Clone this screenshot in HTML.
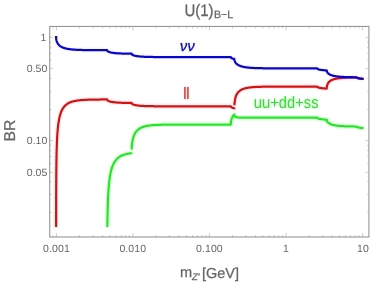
<!DOCTYPE html>
<html><head><meta charset="utf-8"><title>U(1) B-L</title>
<style>
html,body{margin:0;padding:0;background:#fff;}
svg{display:block;will-change:transform;text-rendering:geometricPrecision;font-family:"Liberation Sans",sans-serif;}
</style></head><body>
<svg width="374" height="286" viewBox="0 0 374 286">
<rect width="374" height="286" fill="#fff"/>
<g fill="none" stroke-linejoin="round" stroke-linecap="butt" stroke-width="2.25">
<path d="M56.15,227.00 L56.15,225.26 L56.15,222.06 L56.15,218.87 L56.16,215.68 L56.16,212.50 L56.17,209.32 L56.17,206.15 L56.18,202.99 L56.18,199.83 L56.19,196.68 L56.20,193.54 L56.21,190.41 L56.22,187.29 L56.24,184.19 L56.25,181.09 L56.27,178.01 L56.29,174.94 L56.32,171.89 L56.34,169.58 L56.35,168.86 L56.38,165.84 L56.42,162.85 L56.46,159.88 L56.51,156.94 L56.54,155.31 L56.57,154.02 L56.64,151.14 L56.72,148.28 L56.75,147.23 L56.81,145.47 L56.91,142.69 L56.95,141.66 L57.03,139.96 L57.16,137.45 L57.17,137.28 L57.36,134.10 L57.57,131.33 L57.77,128.98 L57.98,126.96 L58.18,125.19 L58.39,123.62 L58.59,122.22 L58.80,120.95 L59.00,119.80 L59.21,118.75 L59.41,117.79 L59.62,116.91 L59.83,116.09 L60.03,115.33 L60.24,114.62 L60.44,113.96 L60.65,113.34 L60.85,112.76 L61.06,112.21 L61.26,111.69 L61.47,111.21 L61.67,110.75 L61.88,110.32 L62.08,109.91 L62.29,109.51 L62.49,109.14 L62.70,108.79 L62.90,108.46 L63.11,108.14 L63.31,107.83 L63.52,107.54 L63.72,107.26 L63.93,106.99 L64.13,106.74 L64.34,106.49 L64.54,106.26 L64.75,106.04 L64.95,105.82 L65.16,105.61 L65.36,105.41 L65.57,105.22 L65.77,105.04 L65.98,104.86 L66.18,104.69 L66.39,104.53 L66.59,104.37 L66.80,104.22 L67.00,104.07 L67.21,103.93 L67.41,103.80 L67.62,103.67 L67.82,103.54 L68.03,103.42 L68.23,103.30 L68.44,103.19 L68.65,103.07 L68.85,102.97 L69.06,102.87 L69.26,102.77 L69.47,102.67 L69.67,102.58 L69.88,102.49 L70.08,102.40 L70.29,102.31 L70.49,102.23 L70.70,102.15 L70.90,102.08 L71.11,102.00 L71.31,101.93 L71.52,101.86 L71.72,101.79 L71.93,101.73 L72.13,101.66 L72.34,101.60 L72.54,101.54 L72.75,101.48 L72.95,101.43 L73.16,101.37 L73.36,101.32 L73.57,101.27 L73.77,101.22 L73.98,101.17 L74.18,101.12 L74.39,101.08 L74.59,101.03 L74.80,100.99 L75.00,100.95 L75.21,100.91 L75.41,100.87 L75.62,100.83 L75.82,100.79 L76.03,100.76 L76.23,100.72 L76.44,100.69 L76.64,100.65 L76.85,100.62 L77.05,100.59 L77.26,100.56 L77.47,100.53 L77.67,100.50 L77.88,100.47 L78.08,100.44 L78.29,100.42 L78.49,100.39 L78.70,100.37 L78.90,100.34 L79.11,100.32 L79.31,100.30 L79.52,100.27 L79.72,100.25 L79.93,100.23 L80.13,100.21 L80.34,100.19 L80.54,100.17 L80.75,100.15 L80.95,100.13 L81.16,100.11 L81.36,100.10 L81.57,100.08 L81.77,100.06 L81.98,100.05 L82.18,100.03 L82.39,100.02 L82.59,100.00 L82.80,99.99 L83.00,99.97 L83.21,99.96 L83.41,99.95 L83.62,99.93 L83.82,99.92 L84.03,99.91 L84.23,99.89 L84.44,99.88 L84.64,99.87 L84.85,99.86 L85.05,99.85 L85.26,99.84 L85.46,99.83 L85.67,99.82 L85.87,99.81 L86.08,99.80 L86.29,99.79 L86.49,99.78 L86.70,99.77 L86.90,99.76 L87.11,99.76 L87.31,99.75 L87.52,99.74 L87.72,99.73 L87.93,99.72 L88.13,99.72 L88.34,99.71 L88.54,99.70 L88.75,99.70 L88.95,99.69 L89.16,99.68 L89.36,99.68 L89.57,99.67 L89.77,99.66 L89.98,99.66 L90.18,99.65 L90.39,99.65 L90.59,99.64 L90.80,99.64 L91.00,99.63 L91.21,99.63 L91.41,99.62 L91.62,99.62 L91.82,99.61 L92.03,99.61 L92.23,99.60 L92.44,99.60 L92.64,99.60 L92.85,99.59 L93.05,99.59 L93.26,99.58 L93.46,99.58 L93.67,99.58 L93.87,99.57 L94.08,99.57 L94.28,99.57 L94.49,99.56 L94.69,99.56 L94.90,99.56 L95.11,99.55 L95.31,99.55 L95.52,99.55 L95.72,99.54 L95.93,99.54 L96.13,99.54 L96.34,99.54 L96.54,99.53 L96.75,99.53 L96.95,99.53 L97.16,99.53 L97.36,99.52 L97.57,99.52 L97.77,99.52 L97.98,99.52 L98.18,99.51 L98.39,99.51 L98.59,99.51 L98.80,99.51 L99.00,99.51 L99.21,99.51 L99.41,99.50 L99.62,99.50 L99.82,99.50 L100.03,99.50 L100.23,99.50 L100.44,99.50 L100.64,99.49 L100.85,99.49 L101.05,99.49 L101.26,99.49 L101.46,99.49 L101.67,99.49 L101.87,99.49 L102.08,99.48 L102.28,99.48 L102.49,99.48 L102.69,99.48 L102.90,99.48 L103.10,99.48 L103.31,99.48 L103.51,99.48 L103.72,99.47 L103.93,99.47 L104.13,99.47 L104.34,99.47 L104.54,99.47 L104.75,99.47 L104.95,99.47 L105.16,99.47 L105.36,99.47 L105.57,99.47 L105.77,99.47 L105.98,99.46 L106.18,99.46 L106.39,99.46 L106.59,99.46 L106.80,99.46 L107.00,99.46 L107.13,99.46 L107.14,99.58 L107.16,99.69 L107.19,99.79 L107.24,99.90 L107.29,100.00 L107.35,100.08 L107.41,100.17 L107.51,100.29 L107.62,100.39 L107.72,100.48 L107.81,100.55 L107.91,100.62 L108.03,100.70 L108.17,100.79 L108.44,100.93 L108.64,101.03 L108.85,101.12 L109.05,101.20 L109.26,101.28 L109.46,101.35 L109.67,101.42 L109.87,101.48 L110.08,101.54 L110.28,101.59 L110.49,101.65 L110.69,101.70 L110.90,101.74 L111.10,101.79 L111.31,101.83 L111.51,101.87 L111.72,101.91 L111.92,101.95 L112.13,101.98 L112.33,102.02 L112.54,102.05 L112.75,102.08 L112.95,102.11 L113.16,102.14 L113.36,102.17 L113.57,102.19 L113.77,102.22 L113.98,102.24 L114.18,102.27 L114.39,102.29 L114.59,102.31 L114.80,102.33 L115.00,102.35 L115.21,102.37 L115.41,102.39 L115.62,102.41 L115.82,102.43 L116.03,102.45 L116.23,102.46 L116.44,102.48 L116.64,102.50 L116.85,102.51 L117.05,102.53 L117.26,102.54 L117.46,102.55 L117.67,102.57 L117.87,102.58 L118.08,102.59 L118.28,102.60 L118.49,102.62 L118.69,102.63 L118.90,102.64 L119.10,102.65 L119.31,102.66 L119.51,102.67 L119.72,102.68 L119.92,102.69 L120.13,102.70 L120.33,102.71 L120.54,102.71 L120.74,102.72 L120.95,102.73 L121.15,102.74 L121.36,102.75 L121.57,102.75 L121.77,102.76 L121.98,102.77 L122.18,102.77 L122.39,102.78 L122.59,102.79 L122.80,102.79 L123.00,102.80 L123.21,102.81 L123.41,102.81 L123.62,102.82 L123.82,102.82 L124.03,102.83 L124.23,102.83 L124.44,102.84 L124.64,102.84 L124.85,102.85 L125.05,102.85 L125.26,102.86 L125.46,102.86 L125.67,102.86 L125.87,102.87 L126.08,102.87 L126.28,102.88 L126.49,102.88 L126.69,102.88 L126.90,102.89 L127.10,102.89 L127.31,102.89 L127.51,102.90 L127.72,102.90 L127.92,102.90 L128.13,102.91 L128.33,102.91 L128.54,102.91 L128.74,102.92 L128.95,102.92 L129.15,102.92 L129.36,102.92 L129.56,102.93 L129.77,102.93 L129.97,102.93 L130.18,102.93 L130.39,102.94 L130.59,102.94 L130.80,102.94 L131.00,102.94 L131.21,102.94 L131.41,102.95 L131.59,102.95 L131.60,103.07 L131.63,103.18 L131.66,103.27 L131.71,103.38 L131.78,103.49 L131.84,103.57 L131.92,103.66 L132.03,103.77 L132.10,103.83 L132.18,103.89 L132.27,103.96 L132.37,104.03 L132.49,104.11 L132.63,104.19 L132.85,104.30 L133.05,104.40 L133.26,104.48 L133.46,104.56 L133.67,104.64 L133.87,104.71 L134.08,104.77 L134.28,104.83 L134.49,104.89 L134.69,104.94 L134.90,104.99 L135.10,105.04 L135.31,105.09 L135.51,105.13 L135.72,105.17 L135.92,105.21 L136.13,105.25 L136.33,105.28 L136.54,105.32 L136.74,105.35 L136.95,105.38 L137.15,105.41 L137.36,105.44 L137.56,105.47 L137.77,105.50 L137.97,105.53 L138.18,105.55 L138.38,105.57 L138.59,105.60 L138.79,105.62 L139.00,105.64 L139.21,105.66 L139.41,105.68 L139.62,105.70 L139.82,105.72 L140.03,105.74 L140.23,105.76 L140.44,105.77 L140.64,105.79 L140.85,105.81 L141.05,105.82 L141.26,105.84 L141.46,105.85 L141.67,105.87 L141.87,105.88 L142.08,105.89 L142.28,105.90 L142.49,105.92 L142.69,105.93 L142.90,105.94 L143.10,105.95 L143.31,105.96 L143.51,105.97 L143.72,105.98 L143.92,105.99 L144.13,106.00 L144.33,106.01 L144.54,106.02 L144.74,106.03 L144.95,106.04 L145.15,106.05 L145.36,106.05 L145.56,106.06 L145.77,106.07 L145.97,106.08 L146.18,106.08 L146.38,106.09 L146.59,106.10 L146.79,106.10 L147.00,106.11 L147.20,106.12 L147.41,106.12 L147.61,106.13 L147.82,106.13 L148.03,106.14 L148.23,106.14 L148.44,106.15 L148.64,106.16 L148.85,106.16 L149.05,106.16 L149.26,106.17 L149.46,106.17 L149.67,106.18 L149.87,106.18 L150.08,106.19 L150.28,106.19 L150.49,106.19 L150.69,106.20 L150.90,106.20 L151.10,106.21 L151.31,106.21 L151.51,106.21 L151.72,106.22 L151.92,106.22 L152.13,106.22 L152.33,106.23 L152.54,106.23 L152.74,106.23 L152.95,106.23 L153.15,106.24 L153.36,106.24 L153.56,106.24 L153.77,106.25 L153.97,106.25 L154.18,106.25 L154.38,106.25 L154.59,106.25 L154.79,106.26 L155.00,106.26 L155.20,106.26 L155.41,106.26 L155.61,106.27 L155.82,106.27 L156.02,106.27 L156.23,106.27 L156.44,106.27 L156.64,106.27 L156.85,106.28 L157.05,106.28 L157.26,106.28 L157.46,106.28 L157.67,106.28 L157.87,106.28 L158.08,106.29 L158.28,106.29 L158.49,106.29 L158.69,106.29 L158.90,106.29 L159.10,106.29 L159.31,106.29 L159.51,106.29 L159.72,106.30 L159.92,106.30 L160.13,106.30 L160.33,106.30 L160.54,106.30 L160.74,106.30 L160.95,106.30 L161.15,106.30 L161.36,106.30 L161.56,106.31 L161.77,106.31 L161.97,106.31 L162.18,106.31 L162.38,106.31 L162.59,106.31 L162.79,106.31 L163.00,106.31 L163.20,106.31 L163.41,106.31 L163.61,106.31 L163.82,106.31 L164.02,106.31 L164.23,106.32 L164.43,106.32 L164.64,106.32 L164.84,106.32 L165.05,106.32 L165.26,106.32 L165.46,106.32 L165.67,106.32 L165.87,106.32 L166.08,106.32 L166.28,106.32 L166.49,106.32 L166.69,106.32 L166.90,106.32 L167.10,106.32 L167.31,106.32 L167.51,106.32 L167.72,106.32 L167.92,106.32 L168.13,106.33 L168.33,106.33 L168.54,106.33 L168.74,106.33 L168.95,106.33 L169.15,106.33 L169.36,106.33 L169.56,106.33 L169.77,106.33 L169.97,106.33 L170.18,106.33 L170.38,106.33 L170.59,106.33 L170.79,106.33 L171.00,106.33 L171.20,106.33 L171.41,106.33 L171.61,106.33 L171.82,106.33 L172.02,106.33 L172.23,106.33 L172.43,106.33 L172.64,106.33 L172.84,106.33 L173.05,106.33 L173.25,106.33 L173.46,106.33 L173.66,106.33 L173.87,106.33 L174.08,106.33 L174.28,106.33 L174.49,106.33 L174.69,106.33 L174.90,106.33 L175.10,106.33 L175.31,106.33 L175.51,106.33 L175.72,106.34 L175.92,106.34 L176.13,106.34 L176.33,106.34 L176.54,106.34 L176.74,106.34 L176.95,106.34 L177.15,106.34 L177.36,106.34 L177.56,106.34 L177.77,106.34 L177.97,106.34 L178.18,106.34 L178.38,106.34 L178.59,106.34 L178.79,106.34 L179.00,106.34 L179.20,106.34 L179.41,106.34 L179.61,106.34 L179.82,106.34 L180.02,106.34 L180.23,106.34 L180.43,106.34 L180.64,106.34 L180.84,106.34 L181.05,106.34 L181.25,106.34 L181.46,106.34 L181.66,106.34 L181.87,106.34 L182.07,106.34 L182.28,106.34 L182.48,106.34 L182.69,106.34 L182.90,106.34 L183.10,106.34 L183.31,106.34 L183.51,106.34 L183.72,106.34 L183.92,106.34 L184.13,106.34 L184.33,106.34 L184.54,106.34 L184.74,106.34 L184.95,106.34 L185.15,106.34 L185.36,106.34 L185.56,106.34 L185.77,106.34 L185.97,106.34 L186.18,106.34 L186.38,106.34 L186.59,106.34 L186.79,106.34 L187.00,106.34 L187.20,106.34 L187.41,106.34 L187.61,106.34 L187.82,106.34 L188.02,106.34 L188.23,106.34 L188.43,106.34 L188.64,106.34 L188.84,106.34 L189.05,106.34 L189.25,106.34 L189.46,106.34 L189.66,106.34 L189.87,106.34 L190.07,106.34 L190.28,106.34 L190.48,106.34 L190.69,106.34 L190.89,106.34 L191.10,106.34 L191.30,106.34 L191.51,106.34 L191.72,106.34 L191.92,106.34 L192.13,106.34 L192.33,106.34 L192.54,106.34 L192.74,106.34 L192.95,106.34 L193.15,106.34 L193.36,106.34 L193.56,106.34 L193.77,106.34 L193.97,106.34 L194.18,106.34 L194.38,106.34 L194.59,106.34 L194.79,106.34 L195.00,106.34 L195.20,106.34 L195.41,106.34 L195.61,106.34 L195.82,106.34 L196.02,106.34 L196.23,106.34 L196.43,106.34 L196.64,106.34 L196.84,106.34 L197.05,106.34 L197.25,106.34 L197.46,106.34 L197.66,106.34 L197.87,106.34 L198.07,106.34 L198.28,106.34 L198.48,106.34 L198.69,106.34 L198.89,106.34 L199.10,106.34 L199.30,106.34 L199.51,106.34 L199.71,106.34 L199.92,106.34 L200.12,106.34 L200.33,106.34 L200.54,106.34 L200.74,106.34 L200.95,106.34 L201.15,106.34 L201.36,106.34 L201.56,106.34 L201.77,106.34 L201.97,106.34 L202.18,106.34 L202.38,106.34 L202.59,106.34 L202.79,106.34 L203.00,106.34 L203.20,106.34 L203.41,106.34 L203.61,106.34 L203.82,106.34 L204.02,106.34 L204.23,106.34 L204.43,106.34 L204.64,106.34 L204.84,106.34 L205.05,106.34 L205.25,106.34 L205.46,106.34 L205.66,106.34 L205.87,106.34 L206.07,106.34 L206.28,106.34 L206.48,106.34 L206.69,106.34 L206.89,106.34 L207.10,106.34 L207.30,106.34 L207.51,106.34 L207.71,106.34 L207.92,106.34 L208.12,106.34 L208.33,106.34 L208.53,106.34 L208.74,106.34 L208.94,106.34 L209.15,106.34 L209.36,106.34 L209.56,106.34 L209.77,106.34 L209.97,106.34 L210.18,106.34 L210.38,106.34 L210.59,106.34 L210.79,106.34 L211.00,106.34 L211.20,106.34 L211.41,106.34 L211.61,106.34 L211.82,106.34 L212.02,106.34 L212.23,106.34 L212.43,106.34 L212.64,106.34 L212.84,106.34 L213.05,106.34 L213.25,106.34 L213.46,106.34 L213.66,106.34 L213.87,106.34 L214.07,106.34 L214.28,106.34 L214.48,106.34 L214.69,106.34 L214.89,106.34 L215.10,106.34 L215.30,106.34 L215.51,106.34 L215.71,106.34 L215.92,106.34 L216.12,106.34 L216.33,106.34 L216.53,106.34 L216.74,106.34 L216.94,106.34 L217.15,106.34 L217.35,106.34 L217.56,106.34 L217.76,106.34 L217.97,106.34 L218.18,106.34 L218.38,106.34 L218.59,106.34 L218.79,106.34 L219.00,106.34 L219.20,106.34 L219.41,106.34 L219.61,106.34 L219.82,106.34 L220.02,106.34 L220.23,106.34 L220.43,106.34 L220.64,106.34 L220.84,106.34 L221.05,106.34 L221.25,106.34 L221.46,106.34 L221.66,106.34 L221.87,106.34 L222.07,106.34 L222.28,106.34 L222.48,106.34 L222.69,106.34 L222.89,106.34 L223.10,106.34 L223.30,106.34 L223.51,106.34 L223.71,106.34 L223.92,106.34 L224.12,106.34 L224.33,106.34 L224.53,106.34 L224.74,106.34 L224.94,106.34 L225.15,106.34 L225.35,106.34 L225.56,106.34 L225.76,106.34 L225.97,106.34 L226.17,106.34 L226.38,106.34 L226.58,106.34 L226.79,106.34 L227.00,106.34 L227.20,106.34 L227.41,106.34 L227.61,106.34 L227.82,106.34 L228.02,106.34 L228.23,106.34 L228.43,106.34 L228.64,106.34 L228.84,106.34 L229.05,106.34 L229.25,106.34 L229.46,106.34 L229.66,106.34 L229.87,106.34 L230.07,106.34 L230.28,106.34 L230.48,106.34 L230.69,106.34 L230.84,106.34 L230.85,106.46 L230.88,106.57 L230.92,106.67 L230.98,106.77 L231.05,106.88 L231.12,106.96 L231.22,107.05 L231.30,107.12 L231.42,107.21 L231.51,107.27 L231.62,107.34 L231.71,107.40 L231.87,107.48 L232.12,107.60 L232.33,107.69 L232.53,107.77 L232.74,107.84 L232.94,107.90 L233.15,107.97 L233.35,108.02 L233.56,108.08 L233.76,108.13 L233.97,108.18 L234.17,108.22 L234.37,108.27 L234.37,107.66 M234.43,105.30 L234.44,105.09 L234.45,104.86 L234.46,104.63 L234.48,104.37 L234.49,104.10 L234.51,103.82 L234.53,103.52 L234.56,103.20 L234.58,102.88 L234.62,102.50 L234.66,102.13 L234.70,101.73 L234.75,101.31 L234.79,101.03 L234.81,100.87 L234.88,100.42 L234.96,99.94 L234.99,99.73 L235.05,99.44 L235.15,98.92 L235.20,98.70 L235.27,98.38 L235.40,97.85 L235.61,97.12 L235.82,96.48 L236.02,95.92 L236.23,95.42 L236.43,94.96 L236.64,94.54 L236.84,94.16 L237.05,93.80 L237.25,93.48 L237.46,93.17 L237.66,92.89 L237.87,92.62 L238.07,92.37 L238.28,92.14 L238.48,91.92 L238.69,91.71 L238.89,91.51 L239.10,91.33 L239.30,91.15 L239.51,90.98 L239.71,90.82 L239.92,90.67 L240.12,90.52 L240.33,90.38 L240.53,90.25 L240.74,90.13 L240.94,90.00 L241.15,89.89 L241.35,89.78 L241.56,89.67 L241.76,89.57 L241.97,89.47 L242.17,89.38 L242.38,89.29 L242.58,89.20 L242.79,89.12 L242.99,89.03 L243.20,88.96 L243.40,88.88 L243.61,88.81 L243.81,88.74 L244.02,88.67 L244.22,88.61 L244.43,88.55 L244.64,88.49 L244.84,88.43 L245.05,88.37 L245.25,88.32 L245.46,88.27 L245.66,88.22 L245.87,88.17 L246.07,88.12 L246.28,88.07 L246.48,88.03 L246.69,87.99 L246.89,87.95 L247.10,87.91 L247.30,87.87 L247.51,87.83 L247.71,87.79 L247.92,87.76 L248.12,87.72 L248.33,87.69 L248.53,87.66 L248.74,87.63 L248.94,87.60 L249.15,87.57 L249.35,87.54 L249.56,87.51 L249.76,87.48 L249.97,87.46 L250.17,87.43 L250.38,87.41 L250.58,87.39 L250.79,87.36 L250.99,87.34 L251.20,87.32 L251.40,87.30 L251.61,87.28 L251.81,87.26 L252.02,87.24 L252.22,87.22 L252.43,87.20 L252.63,87.18 L252.84,87.17 L253.04,87.15 L253.25,87.13 L253.46,87.12 L253.66,87.10 L253.87,87.09 L254.07,87.07 L254.28,87.06 L254.48,87.04 L254.69,87.03 L254.89,87.02 L255.10,87.01 L255.30,86.99 L255.51,86.98 L255.71,86.97 L255.92,86.96 L256.12,86.95 L256.33,86.94 L256.53,86.93 L256.74,86.92 L256.94,86.91 L257.15,86.90 L257.35,86.89 L257.56,86.88 L257.76,86.87 L257.97,86.86 L258.17,86.85 L258.38,86.85 L258.58,86.84 L258.79,86.83 L258.99,86.82 L259.20,86.81 L259.40,86.81 L259.61,86.80 L259.81,86.79 L260.02,86.79 L260.22,86.78 L260.43,86.78 L260.63,86.77 L260.84,86.76 L261.04,86.76 L261.25,86.75 L261.45,86.75 L261.66,86.74 L261.86,86.74 L262.07,86.73 L262.28,86.73 L262.48,86.72 L262.69,86.72 L262.89,86.71 L263.10,86.71 L263.30,86.70 L263.51,86.70 L263.71,86.70 L263.92,86.69 L264.12,86.69 L264.33,86.68 L264.53,86.68 L264.74,86.68 L264.94,86.67 L265.15,86.67 L265.35,86.67 L265.56,86.66 L265.76,86.66 L265.97,86.66 L266.17,86.65 L266.38,86.65 L266.58,86.65 L266.79,86.65 L266.99,86.64 L267.20,86.64 L267.40,86.64 L267.61,86.64 L267.81,86.63 L268.02,86.63 L268.22,86.63 L268.43,86.63 L268.63,86.62 L268.84,86.62 L269.04,86.62 L269.25,86.62 L269.45,86.62 L269.66,86.61 L269.86,86.61 L270.07,86.61 L270.27,86.61 L270.48,86.61 L270.68,86.60 L270.89,86.60 L271.10,86.60 L271.30,86.60 L271.51,86.60 L271.71,86.60 L271.92,86.60 L272.12,86.59 L272.33,86.59 L272.53,86.59 L272.74,86.59 L272.94,86.59 L273.15,86.59 L273.35,86.59 L273.56,86.59 L273.76,86.58 L273.97,86.58 L274.17,86.58 L274.38,86.58 L274.58,86.58 L274.79,86.58 L274.99,86.58 L275.20,86.58 L275.40,86.58 L275.61,86.57 L275.81,86.57 L276.02,86.57 L276.22,86.57 L276.43,86.57 L276.63,86.57 L276.84,86.57 L277.04,86.57 L277.25,86.57 L277.45,86.57 L277.66,86.57 L277.86,86.57 L278.07,86.57 L278.27,86.56 L278.48,86.56 L278.68,86.56 L278.89,86.56 L279.09,86.56 L279.30,86.56 L279.50,86.56 L279.71,86.56 L279.92,86.56 L280.12,86.56 L280.33,86.56 L280.53,86.56 L280.74,86.56 L280.94,86.56 L281.15,86.56 L281.35,86.56 L281.56,86.56 L281.76,86.56 L281.97,86.56 L282.17,86.56 L282.38,86.55 L282.58,86.55 L282.79,86.55 L282.99,86.55 L283.20,86.55 L283.40,86.55 L283.61,86.55 L283.81,86.55 L284.02,86.55 L284.22,86.55 L284.43,86.55 L284.63,86.55 L284.84,86.55 L285.04,86.55 L285.25,86.55 L285.45,86.55 L285.66,86.55 L285.86,86.55 L286.07,86.55 L286.27,86.55 L286.48,86.55 L286.68,86.55 L286.89,86.55 L287.09,86.55 L287.30,86.55 L287.50,86.55 L287.71,86.55 L287.91,86.55 L288.12,86.55 L288.32,86.55 L288.53,86.55 L288.74,86.55 L288.94,86.55 L289.15,86.55 L289.35,86.55 L289.56,86.55 L289.76,86.55 L289.97,86.55 L290.17,86.55 L290.38,86.54 L290.58,86.54 L290.79,86.54 L290.99,86.54 L291.20,86.54 L291.40,86.54 L291.61,86.54 L291.81,86.54 L292.02,86.54 L292.22,86.54 L292.43,86.54 L292.63,86.54 L292.84,86.54 L293.04,86.54 L293.25,86.54 L293.45,86.54 L293.66,86.54 L293.86,86.54 L294.07,86.54 L294.27,86.54 L294.48,86.54 L294.68,86.54 L294.89,86.54 L295.09,86.54 L295.30,86.54 L295.50,86.54 L295.71,86.54 L295.91,86.54 L296.12,86.54 L296.32,86.54 L296.53,86.54 L296.73,86.54 L296.94,86.54 L297.15,86.54 L297.35,86.54 L297.56,86.54 L297.76,86.54 L297.97,86.54 L298.17,86.54 L298.38,86.54 L298.58,86.54 L298.79,86.54 L298.99,86.54 L299.20,86.54 L299.40,86.54 L299.61,86.54 L299.81,86.54 L300.02,86.54 L300.22,86.54 L300.43,86.54 L300.63,86.54 L300.84,86.54 L301.04,86.54 L301.25,86.54 L301.45,86.54 L301.66,86.54 L301.86,86.54 L302.07,86.54 L302.27,86.54 L302.48,86.54 L302.68,86.54 L302.89,86.54 L303.09,86.54 L303.30,86.54 L303.50,86.54 L303.71,86.54 L303.91,86.54 L304.12,86.54 L304.32,86.54 L304.53,86.54 L304.73,86.54 L304.94,86.54 L305.14,86.54 L305.35,86.54 L305.55,86.54 L305.76,86.54 L305.97,86.54 L306.17,86.54 L306.38,86.54 L306.58,86.54 L306.79,86.54 L306.99,86.54 L307.20,86.54 L307.40,86.54 L307.61,86.54 L307.81,86.54 L308.02,86.54 L308.22,86.54 L308.43,86.54 L308.63,86.54 L308.84,86.54 L309.04,86.54 L309.25,86.54 L309.45,86.54 L309.66,86.54 L309.86,86.54 L310.07,86.54 L310.27,86.54 L310.48,86.54 L310.68,86.54 L310.89,86.54 L311.09,86.54 L311.30,86.54 L311.50,86.54 L311.71,86.54 L311.91,86.54 L312.12,86.54 L312.32,86.54 L312.53,86.54 L312.73,86.54 L312.94,86.54 L313.14,86.54 L313.35,86.54 L313.55,86.54 L313.76,86.54 L313.96,86.54 L314.17,86.54 L314.37,86.54 L314.58,86.54 L314.79,86.54 L314.99,86.54 L315.20,86.54 L315.40,86.54 L315.61,86.54 L315.81,86.54 L316.02,86.54 L316.22,86.54 L316.43,86.54 L316.63,86.54 L316.84,86.54 L317.04,86.54 L317.17,86.54 L317.19,86.65 L317.22,86.74 L317.27,86.83 L317.33,86.90 L317.42,86.99 L317.50,87.05 L317.61,87.13 L317.75,87.22 L317.84,87.27 L317.95,87.32 L318.07,87.37 L318.21,87.43 L318.48,87.53 L318.68,87.60 L318.89,87.66 L319.09,87.71 L319.30,87.76 L319.50,87.81 L319.71,87.86 L319.91,87.90 L320.12,87.94 L320.32,87.98 L320.53,88.01 L320.73,88.05 L320.94,88.08 L321.14,88.11 L321.35,88.14 L321.55,88.17 L321.76,88.19 L321.96,88.22 L322.17,88.24 L322.37,88.27 L322.58,88.29 L322.78,88.31 L322.99,88.33 L323.19,88.35 L323.40,88.37 L323.61,88.39 L323.81,88.41 L324.02,88.42 L324.22,88.44 L324.43,88.46 L324.63,88.47 L324.84,88.49 L325.04,88.50 L325.25,88.51 L325.45,88.53 L325.66,88.54 L325.86,88.55 L326.07,88.56 L326.27,88.58 L326.48,88.59 L326.68,88.60 L326.73,88.53 L326.74,88.40 L326.74,88.26 L326.74,88.12 L326.75,87.96 L326.76,87.80 L326.76,87.68 L326.77,87.54 L326.78,87.38 L326.80,87.20 L326.82,86.99 L326.84,86.88 L326.85,86.75 L326.87,86.62 L326.89,86.48 L326.92,86.33 L326.95,86.18 L326.98,86.01 L327.02,85.83 L327.06,85.64 L327.09,85.52 L327.17,85.23 L327.24,85.01 L327.30,84.83 L327.41,84.52 L327.50,84.29 L327.63,83.99 L327.71,83.84 L327.77,83.71 L327.91,83.45 L328.12,83.11 L328.32,82.80 L328.53,82.53 L328.73,82.28 L328.94,82.05 L329.14,81.83 L329.35,81.64 L329.55,81.45 L329.76,81.28 L329.96,81.12 L330.17,80.97 L330.37,80.83 L330.58,80.70 L330.78,80.57 L330.99,80.45 L331.19,80.34 L331.40,80.23 L331.60,80.13 L331.81,80.03 L332.01,79.94 L332.22,79.85 L332.43,79.76 L332.63,79.68 L332.84,79.60 L333.04,79.53 L333.25,79.46 L333.45,79.39 L333.66,79.32 L333.86,79.26 L334.07,79.20 L334.27,79.14 L334.48,79.08 L334.68,79.03 L334.89,78.98 L335.09,78.93 L335.30,78.88 L335.50,78.83 L335.71,78.79 L335.91,78.75 L336.12,78.70 L336.32,78.66 L336.53,78.63 L336.73,78.59 L336.94,78.55 L337.14,78.52 L337.35,78.48 L337.55,78.45 L337.76,78.42 L337.96,78.39 L338.17,78.36 L338.37,78.33 L338.58,78.30 L338.78,78.27 L338.99,78.25 L339.19,78.22 L339.40,78.20 L339.60,78.18 L339.81,78.15 L340.01,78.13 L340.22,78.11 L340.42,78.09 L340.63,78.07 L340.83,78.05 L341.04,78.03 L341.25,78.01 L341.45,77.99 L341.66,77.98 L341.86,77.96 L342.07,77.94 L342.27,77.93 L342.48,77.91 L342.68,77.90 L342.89,77.88 L343.09,77.87 L343.30,77.85 L343.50,77.84 L343.71,77.83 L343.91,77.82 L344.12,77.80 L344.32,77.79 L344.53,77.78 L344.73,77.77 L344.94,77.76 L345.14,77.75 L345.35,77.74 L345.55,77.73 L345.76,77.72 L345.96,77.71 L346.17,77.70 L346.37,77.69 L346.58,77.68 L346.78,77.67 L346.99,77.66 L347.19,77.66 L347.40,77.65 L347.60,77.64 L347.81,77.63 L348.01,77.63 L348.22,77.62 L348.42,77.61 L348.63,77.61 L348.83,77.60 L349.04,77.59 L349.24,77.59 L349.45,77.58 L349.65,77.58 L349.86,77.57 L350.07,77.57 L350.27,77.56 L350.48,77.55 L350.68,77.55 L350.89,77.54 L351.09,77.54 L351.30,77.54 L351.50,77.53 L351.71,77.53 L351.91,77.52 L352.12,77.52 L352.32,77.51 L352.53,77.51 L352.73,77.51 L352.94,77.50 L353.14,77.50 L353.35,77.50 L353.55,77.49 L353.76,77.49 L353.96,77.49 L354.17,77.48 L354.37,77.48 L354.58,77.48 L354.78,77.47 L354.99,77.47 L355.19,77.47 L355.40,77.46 L355.60,77.46 L355.81,77.46 L356.01,77.46 L356.22,77.45 L356.42,77.45 L356.63,77.45 L356.66,77.54 L356.70,77.63 L356.76,77.71 L356.83,77.77 L356.93,77.84 L357.02,77.90 L357.15,77.97 L357.24,78.01 L357.42,78.08 L357.54,78.12 L357.65,78.16 L357.86,78.22 L358.06,78.28 L358.27,78.33 L358.47,78.38 L358.68,78.42 L358.89,78.46 L359.09,78.49 L359.30,78.53 L359.50,78.56 L359.71,78.59 L359.91,78.62 L360.12,78.65 L360.32,78.67 L360.53,78.70 L360.73,78.72 L360.94,78.74 L361.14,78.76 L361.35,78.78 L361.55,78.80 L361.76,78.82 L361.96,78.84 L362.17,78.85 L362.37,78.87 L362.58,78.89 L362.78,78.90 L362.99,78.92 L363.19,78.93 L363.40,78.94 L363.60,78.96" stroke="#ff0000"/>
<path d="M107.37,227.00 L107.38,226.02 L107.41,223.31 L107.42,222.88 L107.46,219.77 L107.51,216.67 L107.57,213.59 L107.62,211.47 L107.64,210.53 L107.72,207.49 L107.81,204.48 L107.82,204.02 L107.91,201.50 L108.03,198.64 L108.17,195.64 L108.23,194.44 L108.44,191.03 L108.64,188.16 L108.85,185.71 L109.05,183.56 L109.26,181.67 L109.46,179.98 L109.67,178.46 L109.87,177.07 L110.08,175.81 L110.28,174.66 L110.49,173.59 L110.69,172.61 L110.90,171.69 L111.10,170.84 L111.31,170.04 L111.51,169.29 L111.72,168.59 L111.92,167.93 L112.13,167.31 L112.33,166.72 L112.54,166.17 L112.75,165.64 L112.95,165.14 L113.16,164.67 L113.36,164.22 L113.57,163.79 L113.77,163.38 L113.98,162.99 L114.18,162.62 L114.39,162.26 L114.59,161.92 L114.80,161.60 L115.00,161.28 L115.21,160.99 L115.41,160.70 L115.62,160.42 L115.82,160.16 L116.03,159.91 L116.23,159.66 L116.44,159.43 L116.64,159.20 L116.85,158.99 L117.05,158.78 L117.26,158.58 L117.46,158.38 L117.67,158.20 L117.87,158.02 L118.08,157.84 L118.28,157.68 L118.49,157.51 L118.69,157.36 L118.90,157.21 L119.10,157.06 L119.31,156.92 L119.51,156.78 L119.72,156.65 L119.92,156.53 L120.13,156.40 L120.33,156.28 L120.54,156.17 L120.74,156.06 L120.95,155.95 L121.15,155.84 L121.36,155.74 L121.57,155.64 L121.77,155.55 L121.98,155.46 L122.18,155.37 L122.39,155.28 L122.59,155.20 L122.80,155.12 L123.00,155.04 L123.21,154.96 L123.41,154.89 L123.62,154.81 L123.82,154.74 L124.03,154.68 L124.23,154.61 L124.44,154.55 L124.64,154.48 L124.85,154.42 L125.05,154.37 L125.26,154.31 L125.46,154.25 L125.67,154.20 L125.87,154.15 L126.08,154.10 L126.28,154.05 L126.49,154.00 L126.69,153.95 L126.90,153.91 L127.10,153.87 L127.31,153.82 L127.51,153.78 L127.72,153.74 L127.92,153.70 L128.13,153.66 L128.33,153.63 L128.54,153.59 L128.74,153.56 L128.95,153.52 L129.15,153.49 L129.36,153.46 L129.56,153.43 L129.77,153.40 L129.97,153.37 L130.18,153.34 L130.39,153.31 L130.59,153.28 L130.80,153.26 L131.00,153.23 L131.21,153.20 L131.41,153.18 L131.59,153.16 L131.59,152.65 M131.65,149.60 L131.66,149.34 L131.67,149.06 L131.68,148.77 L131.70,148.47 L131.71,148.14 L131.73,147.79 L131.75,147.42 L131.78,147.02 L131.81,146.60 L131.82,146.39 L131.84,146.16 L131.88,145.69 L131.92,145.20 L131.97,144.67 L132.03,144.16 L132.10,143.55 L132.18,142.94 L132.23,142.54 L132.27,142.30 L132.37,141.64 L132.44,141.25 L132.49,140.95 L132.63,140.23 L132.85,139.23 L133.05,138.40 L133.26,137.66 L133.46,137.00 L133.67,136.39 L133.87,135.83 L134.08,135.32 L134.28,134.85 L134.49,134.40 L134.69,133.99 L134.90,133.60 L135.10,133.24 L135.31,132.90 L135.51,132.57 L135.72,132.27 L135.92,131.98 L136.13,131.70 L136.33,131.44 L136.54,131.20 L136.74,130.96 L136.95,130.74 L137.15,130.52 L137.36,130.32 L137.56,130.12 L137.77,129.93 L137.97,129.75 L138.18,129.58 L138.38,129.42 L138.59,129.26 L138.79,129.10 L139.00,128.96 L139.21,128.82 L139.41,128.68 L139.62,128.55 L139.82,128.43 L140.03,128.31 L140.23,128.19 L140.44,128.08 L140.64,127.97 L140.85,127.87 L141.05,127.77 L141.26,127.67 L141.46,127.58 L141.67,127.49 L141.87,127.40 L142.08,127.31 L142.28,127.23 L142.49,127.15 L142.69,127.08 L142.90,127.00 L143.10,126.93 L143.31,126.86 L143.51,126.80 L143.72,126.73 L143.92,126.67 L144.13,126.61 L144.33,126.55 L144.54,126.49 L144.74,126.44 L144.95,126.38 L145.15,126.33 L145.36,126.28 L145.56,126.23 L145.77,126.18 L145.97,126.14 L146.18,126.09 L146.38,126.05 L146.59,126.01 L146.79,125.97 L147.00,125.93 L147.20,125.89 L147.41,125.85 L147.61,125.82 L147.82,125.78 L148.03,125.75 L148.23,125.71 L148.44,125.68 L148.64,125.65 L148.85,125.62 L149.05,125.59 L149.26,125.56 L149.46,125.53 L149.67,125.51 L149.87,125.48 L150.08,125.45 L150.28,125.43 L150.49,125.41 L150.69,125.38 L150.90,125.36 L151.10,125.34 L151.31,125.32 L151.51,125.29 L151.72,125.27 L151.92,125.25 L152.13,125.23 L152.33,125.22 L152.54,125.20 L152.74,125.18 L152.95,125.16 L153.15,125.15 L153.36,125.13 L153.56,125.11 L153.77,125.10 L153.97,125.08 L154.18,125.07 L154.38,125.05 L154.59,125.04 L154.79,125.03 L155.00,125.01 L155.20,125.00 L155.41,124.99 L155.61,124.98 L155.82,124.96 L156.02,124.95 L156.23,124.94 L156.44,124.93 L156.64,124.92 L156.85,124.91 L157.05,124.90 L157.26,124.89 L157.46,124.88 L157.67,124.87 L157.87,124.86 L158.08,124.85 L158.28,124.84 L158.49,124.84 L158.69,124.83 L158.90,124.82 L159.10,124.81 L159.31,124.80 L159.51,124.80 L159.72,124.79 L159.92,124.78 L160.13,124.78 L160.33,124.77 L160.54,124.76 L160.74,124.76 L160.95,124.75 L161.15,124.74 L161.36,124.74 L161.56,124.73 L161.77,124.73 L161.97,124.72 L162.18,124.72 L162.38,124.71 L162.59,124.71 L162.79,124.70 L163.00,124.70 L163.20,124.69 L163.41,124.69 L163.61,124.68 L163.82,124.68 L164.02,124.68 L164.23,124.67 L164.43,124.67 L164.64,124.66 L164.84,124.66 L165.05,124.66 L165.26,124.65 L165.46,124.65 L165.67,124.65 L165.87,124.64 L166.08,124.64 L166.28,124.64 L166.49,124.63 L166.69,124.63 L166.90,124.63 L167.10,124.62 L167.31,124.62 L167.51,124.62 L167.72,124.62 L167.92,124.61 L168.13,124.61 L168.33,124.61 L168.54,124.61 L168.74,124.60 L168.95,124.60 L169.15,124.60 L169.36,124.60 L169.56,124.60 L169.77,124.59 L169.97,124.59 L170.18,124.59 L170.38,124.59 L170.59,124.59 L170.79,124.58 L171.00,124.58 L171.20,124.58 L171.41,124.58 L171.61,124.58 L171.82,124.58 L172.02,124.57 L172.23,124.57 L172.43,124.57 L172.64,124.57 L172.84,124.57 L173.05,124.57 L173.25,124.57 L173.46,124.56 L173.66,124.56 L173.87,124.56 L174.08,124.56 L174.28,124.56 L174.49,124.56 L174.69,124.56 L174.90,124.56 L175.10,124.56 L175.31,124.55 L175.51,124.55 L175.72,124.55 L175.92,124.55 L176.13,124.55 L176.33,124.55 L176.54,124.55 L176.74,124.55 L176.95,124.55 L177.15,124.55 L177.36,124.55 L177.56,124.54 L177.77,124.54 L177.97,124.54 L178.18,124.54 L178.38,124.54 L178.59,124.54 L178.79,124.54 L179.00,124.54 L179.20,124.54 L179.41,124.54 L179.61,124.54 L179.82,124.54 L180.02,124.54 L180.23,124.54 L180.43,124.54 L180.64,124.54 L180.84,124.53 L181.05,124.53 L181.25,124.53 L181.46,124.53 L181.66,124.53 L181.87,124.53 L182.07,124.53 L182.28,124.53 L182.48,124.53 L182.69,124.53 L182.90,124.53 L183.10,124.53 L183.31,124.53 L183.51,124.53 L183.72,124.53 L183.92,124.53 L184.13,124.53 L184.33,124.53 L184.54,124.53 L184.74,124.53 L184.95,124.53 L185.15,124.53 L185.36,124.53 L185.56,124.53 L185.77,124.53 L185.97,124.53 L186.18,124.52 L186.38,124.52 L186.59,124.52 L186.79,124.52 L187.00,124.52 L187.20,124.52 L187.41,124.52 L187.61,124.52 L187.82,124.52 L188.02,124.52 L188.23,124.52 L188.43,124.52 L188.64,124.52 L188.84,124.52 L189.05,124.52 L189.25,124.52 L189.46,124.52 L189.66,124.52 L189.87,124.52 L190.07,124.52 L190.28,124.52 L190.48,124.52 L190.69,124.52 L190.89,124.52 L191.10,124.52 L191.30,124.52 L191.51,124.52 L191.72,124.52 L191.92,124.52 L192.13,124.52 L192.33,124.52 L192.54,124.52 L192.74,124.52 L192.95,124.52 L193.15,124.52 L193.36,124.52 L193.56,124.52 L193.77,124.52 L193.97,124.52 L194.18,124.52 L194.38,124.52 L194.59,124.52 L194.79,124.52 L195.00,124.52 L195.20,124.52 L195.41,124.52 L195.61,124.52 L195.82,124.52 L196.02,124.52 L196.23,124.52 L196.43,124.52 L196.64,124.52 L196.84,124.52 L197.05,124.52 L197.25,124.52 L197.46,124.52 L197.66,124.52 L197.87,124.52 L198.07,124.52 L198.28,124.52 L198.48,124.52 L198.69,124.52 L198.89,124.52 L199.10,124.52 L199.30,124.52 L199.51,124.52 L199.71,124.52 L199.92,124.52 L200.12,124.52 L200.33,124.52 L200.54,124.52 L200.74,124.52 L200.95,124.52 L201.15,124.52 L201.36,124.52 L201.56,124.52 L201.77,124.52 L201.97,124.52 L202.18,124.52 L202.38,124.52 L202.59,124.52 L202.79,124.52 L203.00,124.52 L203.20,124.52 L203.41,124.52 L203.61,124.52 L203.82,124.52 L204.02,124.52 L204.23,124.52 L204.43,124.52 L204.64,124.52 L204.84,124.52 L205.05,124.52 L205.25,124.52 L205.46,124.52 L205.66,124.52 L205.87,124.52 L206.07,124.52 L206.28,124.52 L206.48,124.52 L206.69,124.52 L206.89,124.52 L207.10,124.51 L207.30,124.51 L207.51,124.51 L207.71,124.51 L207.92,124.51 L208.12,124.51 L208.33,124.51 L208.53,124.51 L208.74,124.51 L208.94,124.51 L209.15,124.51 L209.36,124.51 L209.56,124.51 L209.77,124.51 L209.97,124.51 L210.18,124.51 L210.38,124.51 L210.59,124.51 L210.79,124.51 L211.00,124.51 L211.20,124.51 L211.41,124.51 L211.61,124.51 L211.82,124.51 L212.02,124.51 L212.23,124.51 L212.43,124.51 L212.64,124.51 L212.84,124.51 L213.05,124.51 L213.25,124.51 L213.46,124.51 L213.66,124.51 L213.87,124.51 L214.07,124.51 L214.28,124.51 L214.48,124.51 L214.69,124.51 L214.89,124.51 L215.10,124.51 L215.30,124.51 L215.51,124.51 L215.71,124.51 L215.92,124.51 L216.12,124.51 L216.33,124.51 L216.53,124.51 L216.74,124.51 L216.94,124.51 L217.15,124.51 L217.35,124.51 L217.56,124.51 L217.76,124.51 L217.97,124.51 L218.18,124.51 L218.38,124.51 L218.59,124.51 L218.79,124.51 L219.00,124.51 L219.20,124.51 L219.41,124.51 L219.61,124.51 L219.82,124.51 L220.02,124.51 L220.23,124.51 L220.43,124.51 L220.64,124.51 L220.84,124.51 L221.05,124.51 L221.25,124.51 L221.46,124.51 L221.66,124.51 L221.87,124.51 L222.07,124.51 L222.28,124.51 L222.48,124.51 L222.69,124.51 L222.89,124.51 L223.10,124.51 L223.30,124.51 L223.51,124.51 L223.71,124.51 L223.92,124.51 L224.12,124.51 L224.33,124.51 L224.53,124.51 L224.74,124.51 L224.94,124.51 L225.15,124.51 L225.35,124.51 L225.56,124.51 L225.76,124.51 L225.97,124.51 L226.17,124.51 L226.38,124.51 L226.58,124.51 L226.79,124.51 L227.00,124.51 L227.20,124.51 L227.41,124.51 L227.61,124.51 L227.82,124.51 L228.02,124.51 L228.23,124.51 L228.43,124.51 L228.64,124.51 L228.84,124.51 L229.05,124.51 L229.25,124.51 L229.46,124.51 L229.66,124.51 L229.87,124.51 L230.07,124.51 L230.28,124.51 L230.48,124.51 L230.69,124.51 L230.84,124.51 L230.84,124.39 L230.84,124.26 L230.84,124.12 L230.84,123.99 L230.85,123.86 L230.85,123.70 L230.86,123.58 L230.86,123.43 L230.87,123.27 L230.88,123.08 L230.89,122.92 L230.91,122.74 L230.92,122.61 L230.93,122.48 L230.94,122.33 L230.96,122.17 L230.98,122.00 L231.00,121.82 L231.02,121.63 L231.05,121.43 L231.08,121.21 L231.12,120.98 L231.17,120.74 L231.22,120.48 L231.28,120.20 L231.30,120.09 L231.34,119.91 L231.42,119.61 L231.51,119.30 L231.62,118.94 L231.71,118.65 L231.87,118.22 L231.92,118.10 L232.12,117.62 L232.33,117.19 L232.53,116.81 L232.74,116.46 L232.94,116.13 L233.15,115.84 L233.35,115.56 L233.56,115.30 L233.76,115.06 L233.97,114.84 L234.17,114.62 L234.37,114.43 L234.38,114.55 L234.38,114.68 L234.39,114.81 L234.40,114.93 L234.41,115.04 L234.43,115.18 L234.45,115.28 L234.48,115.40 L234.51,115.53 L234.56,115.68 L234.62,115.83 L234.66,115.92 L234.70,116.00 L234.75,116.09 L234.81,116.19 L234.88,116.28 L234.96,116.38 L235.05,116.47 L235.15,116.57 L235.27,116.67 L235.40,116.76 L235.61,116.88 L235.82,116.98 L236.02,117.06 L236.23,117.13 L236.43,117.19 L236.64,117.24 L236.84,117.28 L237.05,117.32 L237.25,117.36 L237.46,117.39 L237.66,117.41 L237.87,117.44 L238.07,117.46 L238.28,117.48 L238.48,117.49 L238.69,117.51 L238.89,117.52 L239.10,117.53 L239.30,117.54 L239.51,117.55 L239.71,117.56 L239.92,117.57 L240.12,117.58 L240.33,117.58 L240.53,117.59 L240.74,117.60 L240.94,117.60 L241.15,117.60 L241.35,117.61 L241.56,117.61 L241.76,117.61 L241.97,117.62 L242.17,117.62 L242.38,117.62 L242.58,117.62 L242.79,117.63 L242.99,117.63 L243.20,117.63 L243.40,117.63 L243.61,117.63 L243.81,117.63 L244.02,117.63 L244.22,117.63 L244.43,117.63 L244.64,117.64 L244.84,117.64 L245.05,117.64 L245.25,117.64 L245.46,117.64 L245.66,117.64 L245.87,117.64 L246.07,117.64 L246.28,117.64 L246.48,117.64 L246.69,117.64 L246.89,117.64 L247.10,117.64 L247.30,117.64 L247.51,117.64 L247.71,117.64 L247.92,117.63 L248.12,117.63 L248.33,117.63 L248.53,117.63 L248.74,117.63 L248.94,117.63 L249.15,117.63 L249.35,117.63 L249.56,117.63 L249.76,117.63 L249.97,117.63 L250.17,117.63 L250.38,117.63 L250.58,117.63 L250.79,117.63 L250.99,117.63 L251.20,117.63 L251.40,117.63 L251.61,117.63 L251.81,117.63 L252.02,117.63 L252.22,117.63 L252.43,117.63 L252.63,117.63 L252.84,117.63 L253.04,117.63 L253.25,117.63 L253.46,117.62 L253.66,117.62 L253.87,117.62 L254.07,117.62 L254.28,117.62 L254.48,117.62 L254.69,117.62 L254.89,117.62 L255.10,117.62 L255.30,117.62 L255.51,117.62 L255.71,117.62 L255.92,117.62 L256.12,117.62 L256.33,117.62 L256.53,117.62 L256.74,117.62 L256.94,117.62 L257.15,117.62 L257.35,117.62 L257.56,117.62 L257.76,117.62 L257.97,117.62 L258.17,117.62 L258.38,117.62 L258.58,117.62 L258.79,117.62 L258.99,117.62 L259.20,117.62 L259.40,117.62 L259.61,117.62 L259.81,117.62 L260.02,117.62 L260.22,117.61 L260.43,117.61 L260.63,117.61 L260.84,117.61 L261.04,117.61 L261.25,117.61 L261.45,117.61 L261.66,117.61 L261.86,117.61 L262.07,117.61 L262.28,117.61 L262.48,117.61 L262.69,117.61 L262.89,117.61 L263.10,117.61 L263.30,117.61 L263.51,117.61 L263.71,117.61 L263.92,117.61 L264.12,117.61 L264.33,117.61 L264.53,117.61 L264.74,117.61 L264.94,117.61 L265.15,117.61 L265.35,117.61 L265.56,117.61 L265.76,117.61 L265.97,117.61 L266.17,117.61 L266.38,117.61 L266.58,117.61 L266.79,117.61 L266.99,117.61 L267.20,117.61 L267.40,117.61 L267.61,117.61 L267.81,117.61 L268.02,117.61 L268.22,117.61 L268.43,117.61 L268.63,117.61 L268.84,117.61 L269.04,117.61 L269.25,117.61 L269.45,117.61 L269.66,117.61 L269.86,117.61 L270.07,117.61 L270.27,117.61 L270.48,117.61 L270.68,117.61 L270.89,117.61 L271.10,117.61 L271.30,117.61 L271.51,117.61 L271.71,117.61 L271.92,117.61 L272.12,117.61 L272.33,117.61 L272.53,117.61 L272.74,117.61 L272.94,117.61 L273.15,117.61 L273.35,117.61 L273.56,117.61 L273.76,117.61 L273.97,117.61 L274.17,117.61 L274.38,117.61 L274.58,117.61 L274.79,117.61 L274.99,117.61 L275.20,117.61 L275.40,117.61 L275.61,117.61 L275.81,117.61 L276.02,117.61 L276.22,117.61 L276.43,117.61 L276.63,117.61 L276.84,117.61 L277.04,117.61 L277.25,117.61 L277.45,117.61 L277.66,117.61 L277.86,117.61 L278.07,117.61 L278.27,117.61 L278.48,117.61 L278.68,117.61 L278.89,117.61 L279.09,117.61 L279.30,117.61 L279.50,117.61 L279.71,117.61 L279.92,117.61 L280.12,117.61 L280.33,117.61 L280.53,117.61 L280.74,117.61 L280.94,117.61 L281.15,117.61 L281.35,117.61 L281.56,117.61 L281.76,117.61 L281.97,117.61 L282.17,117.61 L282.38,117.61 L282.58,117.61 L282.79,117.61 L282.99,117.61 L283.20,117.61 L283.40,117.61 L283.61,117.61 L283.81,117.61 L284.02,117.61 L284.22,117.61 L284.43,117.61 L284.63,117.61 L284.84,117.61 L285.04,117.61 L285.25,117.61 L285.45,117.61 L285.66,117.61 L285.86,117.61 L286.07,117.61 L286.27,117.61 L286.48,117.61 L286.68,117.61 L286.89,117.61 L287.09,117.61 L287.30,117.61 L287.50,117.61 L287.71,117.61 L287.91,117.61 L288.12,117.61 L288.32,117.61 L288.53,117.61 L288.74,117.61 L288.94,117.61 L289.15,117.61 L289.35,117.61 L289.56,117.61 L289.76,117.61 L289.97,117.61 L290.17,117.61 L290.38,117.61 L290.58,117.61 L290.79,117.61 L290.99,117.61 L291.20,117.61 L291.40,117.61 L291.61,117.61 L291.81,117.61 L292.02,117.61 L292.22,117.61 L292.43,117.61 L292.63,117.61 L292.84,117.61 L293.04,117.61 L293.25,117.61 L293.45,117.61 L293.66,117.61 L293.86,117.61 L294.07,117.61 L294.27,117.61 L294.48,117.61 L294.68,117.61 L294.89,117.61 L295.09,117.61 L295.30,117.61 L295.50,117.61 L295.71,117.61 L295.91,117.61 L296.12,117.61 L296.32,117.61 L296.53,117.61 L296.73,117.61 L296.94,117.61 L297.15,117.61 L297.35,117.61 L297.56,117.61 L297.76,117.61 L297.97,117.61 L298.17,117.61 L298.38,117.61 L298.58,117.61 L298.79,117.61 L298.99,117.61 L299.20,117.61 L299.40,117.61 L299.61,117.61 L299.81,117.61 L300.02,117.61 L300.22,117.61 L300.43,117.61 L300.63,117.61 L300.84,117.61 L301.04,117.61 L301.25,117.61 L301.45,117.61 L301.66,117.61 L301.86,117.61 L302.07,117.61 L302.27,117.61 L302.48,117.61 L302.68,117.61 L302.89,117.61 L303.09,117.61 L303.30,117.61 L303.50,117.61 L303.71,117.61 L303.91,117.61 L304.12,117.61 L304.32,117.61 L304.53,117.61 L304.73,117.61 L304.94,117.61 L305.14,117.61 L305.35,117.61 L305.55,117.61 L305.76,117.61 L305.97,117.61 L306.17,117.61 L306.38,117.61 L306.58,117.61 L306.79,117.61 L306.99,117.61 L307.20,117.61 L307.40,117.61 L307.61,117.61 L307.81,117.61 L308.02,117.61 L308.22,117.61 L308.43,117.61 L308.63,117.61 L308.84,117.61 L309.04,117.61 L309.25,117.61 L309.45,117.61 L309.66,117.61 L309.86,117.61 L310.07,117.61 L310.27,117.61 L310.48,117.61 L310.68,117.61 L310.89,117.61 L311.09,117.61 L311.30,117.61 L311.50,117.61 L311.71,117.61 L311.91,117.61 L312.12,117.61 L312.32,117.61 L312.53,117.61 L312.73,117.61 L312.94,117.61 L313.14,117.61 L313.35,117.61 L313.55,117.61 L313.76,117.61 L313.96,117.61 L314.17,117.61 L314.37,117.61 L314.58,117.61 L314.79,117.61 L314.99,117.61 L315.20,117.61 L315.40,117.61 L315.61,117.61 L315.81,117.61 L316.02,117.61 L316.22,117.61 L316.43,117.61 L316.63,117.61 L316.84,117.61 L317.04,117.61 L317.17,117.61 L317.19,117.72 L317.22,117.81 L317.27,117.90 L317.33,117.97 L317.42,118.05 L317.50,118.12 L317.61,118.20 L317.75,118.29 L317.84,118.33 L317.95,118.38 L318.07,118.44 L318.21,118.50 L318.48,118.60 L318.68,118.66 L318.89,118.72 L319.09,118.78 L319.30,118.83 L319.50,118.88 L319.71,118.92 L319.91,118.97 L320.12,119.01 L320.32,119.04 L320.53,119.08 L320.73,119.11 L320.94,119.15 L321.14,119.18 L321.35,119.21 L321.55,119.23 L321.76,119.26 L321.96,119.29 L322.17,119.31 L322.37,119.33 L322.58,119.36 L322.78,119.38 L322.99,119.40 L323.19,119.42 L323.40,119.44 L323.61,119.46 L323.81,119.47 L324.02,119.49 L324.22,119.51 L324.43,119.52 L324.63,119.54 L324.84,119.55 L325.04,119.57 L325.25,119.58 L325.45,119.59 L325.66,119.61 L325.86,119.62 L326.07,119.63 L326.27,119.64 L326.48,119.65 L326.68,119.66 L326.74,119.73 L326.74,119.85 L326.75,119.97 L326.76,120.10 L326.78,120.21 L326.80,120.34 L326.82,120.45 L326.85,120.57 L326.89,120.68 L326.92,120.78 L326.98,120.95 L327.02,121.04 L327.06,121.14 L327.11,121.25 L327.17,121.37 L327.24,121.49 L327.30,121.58 L327.41,121.75 L327.50,121.89 L327.63,122.06 L327.71,122.15 L327.77,122.22 L327.91,122.37 L328.12,122.58 L328.32,122.76 L328.53,122.93 L328.73,123.09 L328.94,123.23 L329.14,123.37 L329.35,123.49 L329.55,123.61 L329.76,123.72 L329.96,123.83 L330.17,123.93 L330.37,124.03 L330.58,124.12 L330.78,124.20 L330.99,124.28 L331.19,124.36 L331.40,124.44 L331.60,124.51 L331.81,124.58 L332.01,124.64 L332.22,124.71 L332.43,124.77 L332.63,124.82 L332.84,124.88 L333.04,124.93 L333.25,124.99 L333.45,125.04 L333.66,125.08 L333.86,125.13 L334.07,125.17 L334.27,125.22 L334.48,125.26 L334.68,125.30 L334.89,125.34 L335.09,125.37 L335.30,125.41 L335.50,125.44 L335.71,125.48 L335.91,125.51 L336.12,125.54 L336.32,125.57 L336.53,125.60 L336.73,125.63 L336.94,125.66 L337.14,125.68 L337.35,125.71 L337.55,125.74 L337.76,125.76 L337.96,125.78 L338.17,125.81 L338.37,125.83 L338.58,125.85 L338.78,125.87 L338.99,125.89 L339.19,125.91 L339.40,125.93 L339.60,125.95 L339.81,125.96 L340.01,125.98 L340.22,126.00 L340.42,126.02 L340.63,126.03 L340.83,126.05 L341.04,126.06 L341.25,126.08 L341.45,126.09 L341.66,126.10 L341.86,126.12 L342.07,126.13 L342.27,126.14 L342.48,126.15 L342.68,126.17 L342.89,126.18 L343.09,126.19 L343.30,126.20 L343.50,126.21 L343.71,126.22 L343.91,126.23 L344.12,126.24 L344.32,126.25 L344.53,126.26 L344.73,126.27 L344.94,126.28 L345.14,126.29 L345.35,126.29 L345.55,126.30 L345.76,126.31 L345.96,126.32 L346.17,126.32 L346.37,126.33 L346.58,126.34 L346.78,126.35 L346.99,126.35 L347.19,126.36 L347.40,126.36 L347.60,126.37 L347.81,126.38 L348.01,126.38 L348.22,126.39 L348.42,126.39 L348.63,126.40 L348.83,126.40 L349.04,126.41 L349.24,126.41 L349.45,126.42 L349.65,126.42 L349.86,126.43 L350.07,126.43 L350.27,126.44 L350.48,126.44 L350.68,126.44 L350.89,126.45 L351.09,126.45 L351.30,126.46 L351.50,126.46 L351.71,126.46 L351.91,126.47 L352.12,126.47 L352.32,126.47 L352.53,126.48 L352.73,126.48 L352.94,126.48 L353.14,126.49 L353.35,126.49 L353.55,126.49 L353.76,126.49 L353.96,126.50 L354.17,126.50 L354.37,126.50 L354.58,126.50 L354.78,126.51 L354.99,126.51 L355.19,126.51 L355.40,126.51 L355.60,126.52 L355.81,126.52 L356.01,126.52 L356.22,126.52 L356.42,126.52 L356.63,126.53 L356.66,126.62 L356.70,126.71 L356.76,126.78 L356.83,126.85 L356.93,126.92 L357.02,126.98 L357.15,127.05 L357.24,127.10 L357.42,127.17 L357.54,127.22 L357.65,127.26 L357.86,127.32 L358.06,127.38 L358.27,127.43 L358.47,127.48 L358.68,127.53 L358.89,127.57 L359.09,127.61 L359.30,127.65 L359.50,127.68 L359.71,127.72 L359.91,127.75 L360.12,127.78 L360.32,127.81 L360.53,127.83 L360.73,127.86 L360.94,127.88 L361.14,127.91 L361.35,127.93 L361.55,127.95 L361.76,127.97 L361.96,127.99 L362.17,128.01 L362.37,128.03 L362.58,128.05 L362.78,128.06 L362.99,128.08 L363.19,128.10 L363.40,128.11 L363.60,128.13" stroke="#00ff00"/>
<path d="M56.13,35.95 L56.13,37.30 L56.13,37.42 L56.14,37.55 L56.14,37.68 L56.14,37.81 L56.15,37.93 L56.15,38.09 L56.16,38.21 L56.17,38.35 L56.18,38.51 L56.20,38.69 L56.22,38.91 L56.24,39.02 L56.25,39.15 L56.27,39.28 L56.29,39.43 L56.32,39.58 L56.34,39.71 L56.38,39.92 L56.42,40.11 L56.46,40.31 L56.51,40.52 L56.54,40.64 L56.57,40.74 L56.64,40.98 L56.72,41.24 L56.75,41.33 L56.81,41.50 L56.91,41.78 L56.95,41.90 L57.03,42.08 L57.16,42.37 L57.36,42.79 L57.57,43.17 L57.77,43.51 L57.98,43.81 L58.18,44.10 L58.39,44.36 L58.59,44.60 L58.80,44.83 L59.00,45.04 L59.21,45.25 L59.41,45.43 L59.62,45.61 L59.83,45.78 L60.03,45.94 L60.24,46.09 L60.44,46.24 L60.65,46.38 L60.85,46.51 L61.06,46.63 L61.26,46.75 L61.47,46.87 L61.67,46.98 L61.88,47.08 L62.08,47.18 L62.29,47.28 L62.49,47.37 L62.70,47.46 L62.90,47.55 L63.11,47.63 L63.31,47.71 L63.52,47.79 L63.72,47.86 L63.93,47.93 L64.13,48.00 L64.34,48.07 L64.54,48.13 L64.75,48.19 L64.95,48.25 L65.16,48.31 L65.36,48.36 L65.57,48.42 L65.77,48.47 L65.98,48.52 L66.18,48.57 L66.39,48.62 L66.59,48.66 L66.80,48.70 L67.00,48.75 L67.21,48.79 L67.41,48.83 L67.62,48.87 L67.82,48.90 L68.03,48.94 L68.23,48.98 L68.44,49.01 L68.65,49.04 L68.85,49.07 L69.06,49.11 L69.26,49.14 L69.47,49.16 L69.67,49.19 L69.88,49.22 L70.08,49.25 L70.29,49.27 L70.49,49.30 L70.70,49.32 L70.90,49.35 L71.11,49.37 L71.31,49.39 L71.52,49.41 L71.72,49.43 L71.93,49.45 L72.13,49.47 L72.34,49.49 L72.54,49.51 L72.75,49.53 L72.95,49.55 L73.16,49.57 L73.36,49.58 L73.57,49.60 L73.77,49.61 L73.98,49.63 L74.18,49.64 L74.39,49.66 L74.59,49.67 L74.80,49.69 L75.00,49.70 L75.21,49.71 L75.41,49.73 L75.62,49.74 L75.82,49.75 L76.03,49.76 L76.23,49.77 L76.44,49.78 L76.64,49.79 L76.85,49.80 L77.05,49.81 L77.26,49.82 L77.47,49.83 L77.67,49.84 L77.88,49.85 L78.08,49.86 L78.29,49.87 L78.49,49.88 L78.70,49.89 L78.90,49.89 L79.11,49.90 L79.31,49.91 L79.52,49.92 L79.72,49.92 L79.93,49.93 L80.13,49.94 L80.34,49.94 L80.54,49.95 L80.75,49.96 L80.95,49.96 L81.16,49.97 L81.36,49.97 L81.57,49.98 L81.77,49.99 L81.98,49.99 L82.18,50.00 L82.39,50.00 L82.59,50.01 L82.80,50.01 L83.00,50.02 L83.21,50.02 L83.41,50.02 L83.62,50.03 L83.82,50.03 L84.03,50.04 L84.23,50.04 L84.44,50.04 L84.64,50.05 L84.85,50.05 L85.05,50.06 L85.26,50.06 L85.46,50.06 L85.67,50.07 L85.87,50.07 L86.08,50.07 L86.29,50.08 L86.49,50.08 L86.70,50.08 L86.90,50.08 L87.11,50.09 L87.31,50.09 L87.52,50.09 L87.72,50.09 L87.93,50.10 L88.13,50.10 L88.34,50.10 L88.54,50.10 L88.75,50.11 L88.95,50.11 L89.16,50.11 L89.36,50.11 L89.57,50.11 L89.77,50.12 L89.98,50.12 L90.18,50.12 L90.39,50.12 L90.59,50.12 L90.80,50.13 L91.00,50.13 L91.21,50.13 L91.41,50.13 L91.62,50.13 L91.82,50.13 L92.03,50.14 L92.23,50.14 L92.44,50.14 L92.64,50.14 L92.85,50.14 L93.05,50.14 L93.26,50.14 L93.46,50.14 L93.67,50.15 L93.87,50.15 L94.08,50.15 L94.28,50.15 L94.49,50.15 L94.69,50.15 L94.90,50.15 L95.11,50.15 L95.31,50.15 L95.52,50.16 L95.72,50.16 L95.93,50.16 L96.13,50.16 L96.34,50.16 L96.54,50.16 L96.75,50.16 L96.95,50.16 L97.16,50.16 L97.36,50.16 L97.57,50.16 L97.77,50.16 L97.98,50.17 L98.18,50.17 L98.39,50.17 L98.59,50.17 L98.80,50.17 L99.00,50.17 L99.21,50.17 L99.41,50.17 L99.62,50.17 L99.82,50.17 L100.03,50.17 L100.23,50.17 L100.44,50.17 L100.64,50.17 L100.85,50.17 L101.05,50.17 L101.26,50.17 L101.46,50.18 L101.67,50.18 L101.87,50.18 L102.08,50.18 L102.28,50.18 L102.49,50.18 L102.69,50.18 L102.90,50.18 L103.10,50.18 L103.31,50.18 L103.51,50.18 L103.72,50.18 L103.93,50.18 L104.13,50.18 L104.34,50.18 L104.54,50.18 L104.75,50.18 L104.95,50.18 L105.16,50.18 L105.36,50.18 L105.57,50.18 L105.77,50.18 L105.98,50.18 L106.18,50.18 L106.39,50.18 L106.59,50.18 L106.80,50.18 L107.00,50.18 L107.13,50.18 L107.14,50.30 L107.16,50.41 L107.19,50.51 L107.24,50.62 L107.29,50.73 L107.35,50.81 L107.41,50.90 L107.51,51.01 L107.62,51.11 L107.72,51.20 L107.81,51.27 L107.91,51.35 L108.03,51.43 L108.17,51.51 L108.44,51.66 L108.64,51.76 L108.85,51.85 L109.05,51.93 L109.26,52.01 L109.46,52.08 L109.67,52.15 L109.87,52.21 L110.08,52.27 L110.28,52.33 L110.49,52.38 L110.69,52.43 L110.90,52.48 L111.10,52.53 L111.31,52.57 L111.51,52.61 L111.72,52.65 L111.92,52.69 L112.13,52.72 L112.33,52.76 L112.54,52.79 L112.75,52.82 L112.95,52.85 L113.16,52.88 L113.36,52.91 L113.57,52.94 L113.77,52.96 L113.98,52.99 L114.18,53.01 L114.39,53.04 L114.59,53.06 L114.80,53.08 L115.00,53.10 L115.21,53.12 L115.41,53.14 L115.62,53.16 L115.82,53.18 L116.03,53.20 L116.23,53.21 L116.44,53.23 L116.64,53.25 L116.85,53.26 L117.05,53.28 L117.26,53.29 L117.46,53.30 L117.67,53.32 L117.87,53.33 L118.08,53.34 L118.28,53.36 L118.49,53.37 L118.69,53.38 L118.90,53.39 L119.10,53.40 L119.31,53.41 L119.51,53.42 L119.72,53.43 L119.92,53.44 L120.13,53.45 L120.33,53.46 L120.54,53.47 L120.74,53.48 L120.95,53.49 L121.15,53.49 L121.36,53.50 L121.57,53.51 L121.77,53.52 L121.98,53.52 L122.18,53.53 L122.39,53.54 L122.59,53.54 L122.80,53.55 L123.00,53.56 L123.21,53.56 L123.41,53.57 L123.62,53.57 L123.82,53.58 L124.03,53.58 L124.23,53.59 L124.44,53.59 L124.64,53.60 L124.85,53.60 L125.05,53.61 L125.26,53.61 L125.46,53.62 L125.67,53.62 L125.87,53.63 L126.08,53.63 L126.28,53.63 L126.49,53.64 L126.69,53.64 L126.90,53.65 L127.10,53.65 L127.31,53.65 L127.51,53.66 L127.72,53.66 L127.92,53.66 L128.13,53.67 L128.33,53.67 L128.54,53.67 L128.74,53.67 L128.95,53.68 L129.15,53.68 L129.36,53.68 L129.56,53.68 L129.77,53.69 L129.97,53.69 L130.18,53.69 L130.39,53.69 L130.59,53.70 L130.80,53.70 L131.00,53.70 L131.21,53.70 L131.41,53.70 L131.59,53.71 L131.60,53.83 L131.63,53.93 L131.66,54.03 L131.71,54.14 L131.78,54.25 L131.84,54.33 L131.92,54.42 L132.03,54.53 L132.10,54.59 L132.18,54.65 L132.27,54.72 L132.37,54.79 L132.49,54.87 L132.63,54.95 L132.85,55.06 L133.05,55.15 L133.26,55.24 L133.46,55.32 L133.67,55.40 L133.87,55.47 L134.08,55.53 L134.28,55.59 L134.49,55.65 L134.69,55.70 L134.90,55.75 L135.10,55.80 L135.31,55.85 L135.51,55.89 L135.72,55.93 L135.92,55.97 L136.13,56.01 L136.33,56.04 L136.54,56.08 L136.74,56.11 L136.95,56.14 L137.15,56.18 L137.36,56.20 L137.56,56.23 L137.77,56.26 L137.97,56.29 L138.18,56.31 L138.38,56.34 L138.59,56.36 L138.79,56.38 L139.00,56.40 L139.21,56.42 L139.41,56.44 L139.62,56.46 L139.82,56.48 L140.03,56.50 L140.23,56.52 L140.44,56.53 L140.64,56.55 L140.85,56.57 L141.05,56.58 L141.26,56.60 L141.46,56.61 L141.67,56.63 L141.87,56.64 L142.08,56.65 L142.28,56.67 L142.49,56.68 L142.69,56.69 L142.90,56.70 L143.10,56.71 L143.31,56.72 L143.51,56.73 L143.72,56.74 L143.92,56.75 L144.13,56.76 L144.33,56.77 L144.54,56.78 L144.74,56.79 L144.95,56.80 L145.15,56.81 L145.36,56.81 L145.56,56.82 L145.77,56.83 L145.97,56.84 L146.18,56.84 L146.38,56.85 L146.59,56.86 L146.79,56.86 L147.00,56.87 L147.20,56.88 L147.41,56.88 L147.61,56.89 L147.82,56.89 L148.03,56.90 L148.23,56.91 L148.44,56.91 L148.64,56.92 L148.85,56.92 L149.05,56.93 L149.26,56.93 L149.46,56.93 L149.67,56.94 L149.87,56.94 L150.08,56.95 L150.28,56.95 L150.49,56.96 L150.69,56.96 L150.90,56.96 L151.10,56.97 L151.31,56.97 L151.51,56.97 L151.72,56.98 L151.92,56.98 L152.13,56.98 L152.33,56.99 L152.54,56.99 L152.74,56.99 L152.95,57.00 L153.15,57.00 L153.36,57.00 L153.56,57.00 L153.77,57.01 L153.97,57.01 L154.18,57.01 L154.38,57.01 L154.59,57.02 L154.79,57.02 L155.00,57.02 L155.20,57.02 L155.41,57.02 L155.61,57.03 L155.82,57.03 L156.02,57.03 L156.23,57.03 L156.44,57.03 L156.64,57.04 L156.85,57.04 L157.05,57.04 L157.26,57.04 L157.46,57.04 L157.67,57.04 L157.87,57.05 L158.08,57.05 L158.28,57.05 L158.49,57.05 L158.69,57.05 L158.90,57.05 L159.10,57.05 L159.31,57.05 L159.51,57.06 L159.72,57.06 L159.92,57.06 L160.13,57.06 L160.33,57.06 L160.54,57.06 L160.74,57.06 L160.95,57.06 L161.15,57.06 L161.36,57.07 L161.56,57.07 L161.77,57.07 L161.97,57.07 L162.18,57.07 L162.38,57.07 L162.59,57.07 L162.79,57.07 L163.00,57.07 L163.20,57.07 L163.41,57.07 L163.61,57.07 L163.82,57.08 L164.02,57.08 L164.23,57.08 L164.43,57.08 L164.64,57.08 L164.84,57.08 L165.05,57.08 L165.26,57.08 L165.46,57.08 L165.67,57.08 L165.87,57.08 L166.08,57.08 L166.28,57.08 L166.49,57.08 L166.69,57.08 L166.90,57.08 L167.10,57.08 L167.31,57.08 L167.51,57.09 L167.72,57.09 L167.92,57.09 L168.13,57.09 L168.33,57.09 L168.54,57.09 L168.74,57.09 L168.95,57.09 L169.15,57.09 L169.36,57.09 L169.56,57.09 L169.77,57.09 L169.97,57.09 L170.18,57.09 L170.38,57.09 L170.59,57.09 L170.79,57.09 L171.00,57.09 L171.20,57.09 L171.41,57.09 L171.61,57.09 L171.82,57.09 L172.02,57.09 L172.23,57.09 L172.43,57.09 L172.64,57.09 L172.84,57.09 L173.05,57.09 L173.25,57.09 L173.46,57.09 L173.66,57.09 L173.87,57.09 L174.08,57.09 L174.28,57.09 L174.49,57.10 L174.69,57.10 L174.90,57.10 L175.10,57.10 L175.31,57.10 L175.51,57.10 L175.72,57.10 L175.92,57.10 L176.13,57.10 L176.33,57.10 L176.54,57.10 L176.74,57.10 L176.95,57.10 L177.15,57.10 L177.36,57.10 L177.56,57.10 L177.77,57.10 L177.97,57.10 L178.18,57.10 L178.38,57.10 L178.59,57.10 L178.79,57.10 L179.00,57.10 L179.20,57.10 L179.41,57.10 L179.61,57.10 L179.82,57.10 L180.02,57.10 L180.23,57.10 L180.43,57.10 L180.64,57.10 L180.84,57.10 L181.05,57.10 L181.25,57.10 L181.46,57.10 L181.66,57.10 L181.87,57.10 L182.07,57.10 L182.28,57.10 L182.48,57.10 L182.69,57.10 L182.90,57.10 L183.10,57.10 L183.31,57.10 L183.51,57.10 L183.72,57.10 L183.92,57.10 L184.13,57.10 L184.33,57.10 L184.54,57.10 L184.74,57.10 L184.95,57.10 L185.15,57.10 L185.36,57.10 L185.56,57.10 L185.77,57.10 L185.97,57.10 L186.18,57.10 L186.38,57.10 L186.59,57.10 L186.79,57.10 L187.00,57.10 L187.20,57.10 L187.41,57.10 L187.61,57.10 L187.82,57.10 L188.02,57.10 L188.23,57.10 L188.43,57.10 L188.64,57.10 L188.84,57.10 L189.05,57.10 L189.25,57.10 L189.46,57.10 L189.66,57.10 L189.87,57.10 L190.07,57.10 L190.28,57.10 L190.48,57.10 L190.69,57.10 L190.89,57.10 L191.10,57.10 L191.30,57.10 L191.51,57.10 L191.72,57.10 L191.92,57.10 L192.13,57.10 L192.33,57.10 L192.54,57.10 L192.74,57.10 L192.95,57.10 L193.15,57.10 L193.36,57.10 L193.56,57.10 L193.77,57.10 L193.97,57.10 L194.18,57.10 L194.38,57.10 L194.59,57.10 L194.79,57.10 L195.00,57.10 L195.20,57.10 L195.41,57.10 L195.61,57.10 L195.82,57.10 L196.02,57.10 L196.23,57.10 L196.43,57.10 L196.64,57.10 L196.84,57.10 L197.05,57.10 L197.25,57.10 L197.46,57.10 L197.66,57.10 L197.87,57.10 L198.07,57.10 L198.28,57.10 L198.48,57.10 L198.69,57.10 L198.89,57.10 L199.10,57.10 L199.30,57.10 L199.51,57.10 L199.71,57.10 L199.92,57.10 L200.12,57.10 L200.33,57.10 L200.54,57.10 L200.74,57.10 L200.95,57.10 L201.15,57.10 L201.36,57.10 L201.56,57.10 L201.77,57.10 L201.97,57.10 L202.18,57.10 L202.38,57.10 L202.59,57.10 L202.79,57.10 L203.00,57.10 L203.20,57.10 L203.41,57.10 L203.61,57.10 L203.82,57.10 L204.02,57.10 L204.23,57.10 L204.43,57.10 L204.64,57.10 L204.84,57.10 L205.05,57.10 L205.25,57.10 L205.46,57.10 L205.66,57.10 L205.87,57.10 L206.07,57.10 L206.28,57.10 L206.48,57.10 L206.69,57.10 L206.89,57.10 L207.10,57.10 L207.30,57.10 L207.51,57.10 L207.71,57.10 L207.92,57.10 L208.12,57.10 L208.33,57.10 L208.53,57.10 L208.74,57.10 L208.94,57.10 L209.15,57.10 L209.36,57.10 L209.56,57.10 L209.77,57.10 L209.97,57.10 L210.18,57.10 L210.38,57.10 L210.59,57.10 L210.79,57.10 L211.00,57.10 L211.20,57.10 L211.41,57.10 L211.61,57.10 L211.82,57.10 L212.02,57.10 L212.23,57.10 L212.43,57.10 L212.64,57.10 L212.84,57.10 L213.05,57.10 L213.25,57.10 L213.46,57.10 L213.66,57.10 L213.87,57.10 L214.07,57.10 L214.28,57.10 L214.48,57.10 L214.69,57.10 L214.89,57.10 L215.10,57.10 L215.30,57.10 L215.51,57.10 L215.71,57.10 L215.92,57.10 L216.12,57.10 L216.33,57.10 L216.53,57.10 L216.74,57.10 L216.94,57.10 L217.15,57.10 L217.35,57.10 L217.56,57.10 L217.76,57.10 L217.97,57.10 L218.18,57.10 L218.38,57.10 L218.59,57.10 L218.79,57.10 L219.00,57.10 L219.20,57.10 L219.41,57.10 L219.61,57.10 L219.82,57.10 L220.02,57.10 L220.23,57.10 L220.43,57.10 L220.64,57.10 L220.84,57.10 L221.05,57.10 L221.25,57.10 L221.46,57.10 L221.66,57.10 L221.87,57.10 L222.07,57.10 L222.28,57.10 L222.48,57.10 L222.69,57.10 L222.89,57.10 L223.10,57.10 L223.30,57.10 L223.51,57.10 L223.71,57.10 L223.92,57.10 L224.12,57.10 L224.33,57.10 L224.53,57.10 L224.74,57.10 L224.94,57.10 L225.15,57.10 L225.35,57.10 L225.56,57.10 L225.76,57.10 L225.97,57.10 L226.17,57.10 L226.38,57.10 L226.58,57.10 L226.79,57.10 L227.00,57.10 L227.20,57.10 L227.41,57.10 L227.61,57.10 L227.82,57.10 L228.02,57.10 L228.23,57.10 L228.43,57.10 L228.64,57.10 L228.84,57.10 L229.05,57.10 L229.25,57.10 L229.46,57.10 L229.66,57.10 L229.87,57.10 L230.07,57.10 L230.28,57.10 L230.48,57.10 L230.69,57.10 L230.84,57.10 L230.85,57.22 L230.88,57.33 L230.92,57.43 L230.98,57.54 L231.05,57.64 L231.12,57.72 L231.22,57.81 L231.30,57.89 L231.42,57.98 L231.51,58.03 L231.62,58.10 L231.71,58.16 L231.87,58.24 L232.12,58.36 L232.33,58.45 L232.53,58.53 L232.74,58.60 L232.94,58.67 L233.15,58.73 L233.35,58.79 L233.56,58.84 L233.76,58.89 L233.97,58.94 L234.17,58.99 L234.37,59.03 L234.38,59.15 L234.38,59.27 L234.39,59.40 L234.40,59.52 L234.41,59.64 L234.42,59.79 L234.44,59.91 L234.46,60.04 L234.49,60.20 L234.53,60.38 L234.56,60.48 L234.58,60.58 L234.62,60.71 L234.66,60.83 L234.70,60.97 L234.75,61.11 L234.79,61.21 L234.88,61.42 L234.96,61.60 L235.05,61.78 L235.15,61.98 L235.20,62.07 L235.27,62.19 L235.40,62.40 L235.61,62.70 L235.82,62.97 L236.02,63.21 L236.23,63.44 L236.43,63.65 L236.64,63.84 L236.84,64.02 L237.05,64.19 L237.25,64.35 L237.46,64.50 L237.66,64.64 L237.87,64.78 L238.07,64.90 L238.28,65.03 L238.48,65.14 L238.69,65.25 L238.89,65.36 L239.10,65.46 L239.30,65.56 L239.51,65.65 L239.71,65.74 L239.92,65.82 L240.12,65.90 L240.33,65.98 L240.53,66.06 L240.74,66.13 L240.94,66.20 L241.15,66.27 L241.35,66.33 L241.56,66.39 L241.76,66.45 L241.97,66.51 L242.17,66.57 L242.38,66.62 L242.58,66.67 L242.79,66.72 L242.99,66.77 L243.20,66.82 L243.40,66.86 L243.61,66.91 L243.81,66.95 L244.02,66.99 L244.22,67.03 L244.43,67.07 L244.64,67.10 L244.84,67.14 L245.05,67.17 L245.25,67.21 L245.46,67.24 L245.66,67.27 L245.87,67.30 L246.07,67.33 L246.28,67.36 L246.48,67.39 L246.69,67.42 L246.89,67.44 L247.10,67.47 L247.30,67.49 L247.51,67.52 L247.71,67.54 L247.92,67.56 L248.12,67.58 L248.33,67.61 L248.53,67.63 L248.74,67.65 L248.94,67.67 L249.15,67.68 L249.35,67.70 L249.56,67.72 L249.76,67.74 L249.97,67.75 L250.17,67.77 L250.38,67.79 L250.58,67.80 L250.79,67.82 L250.99,67.83 L251.20,67.85 L251.40,67.86 L251.61,67.87 L251.81,67.89 L252.02,67.90 L252.22,67.91 L252.43,67.92 L252.63,67.93 L252.84,67.95 L253.04,67.96 L253.25,67.97 L253.46,67.98 L253.66,67.99 L253.87,68.00 L254.07,68.01 L254.28,68.02 L254.48,68.03 L254.69,68.04 L254.89,68.04 L255.10,68.05 L255.30,68.06 L255.51,68.07 L255.71,68.08 L255.92,68.08 L256.12,68.09 L256.33,68.10 L256.53,68.10 L256.74,68.11 L256.94,68.12 L257.15,68.12 L257.35,68.13 L257.56,68.14 L257.76,68.14 L257.97,68.15 L258.17,68.15 L258.38,68.16 L258.58,68.16 L258.79,68.17 L258.99,68.17 L259.20,68.18 L259.40,68.18 L259.61,68.19 L259.81,68.19 L260.02,68.20 L260.22,68.20 L260.43,68.21 L260.63,68.21 L260.84,68.21 L261.04,68.22 L261.25,68.22 L261.45,68.23 L261.66,68.23 L261.86,68.23 L262.07,68.24 L262.28,68.24 L262.48,68.24 L262.69,68.25 L262.89,68.25 L263.10,68.25 L263.30,68.25 L263.51,68.26 L263.71,68.26 L263.92,68.26 L264.12,68.27 L264.33,68.27 L264.53,68.27 L264.74,68.27 L264.94,68.28 L265.15,68.28 L265.35,68.28 L265.56,68.28 L265.76,68.28 L265.97,68.29 L266.17,68.29 L266.38,68.29 L266.58,68.29 L266.79,68.29 L266.99,68.30 L267.20,68.30 L267.40,68.30 L267.61,68.30 L267.81,68.30 L268.02,68.30 L268.22,68.31 L268.43,68.31 L268.63,68.31 L268.84,68.31 L269.04,68.31 L269.25,68.31 L269.45,68.31 L269.66,68.32 L269.86,68.32 L270.07,68.32 L270.27,68.32 L270.48,68.32 L270.68,68.32 L270.89,68.32 L271.10,68.32 L271.30,68.32 L271.51,68.33 L271.71,68.33 L271.92,68.33 L272.12,68.33 L272.33,68.33 L272.53,68.33 L272.74,68.33 L272.94,68.33 L273.15,68.33 L273.35,68.33 L273.56,68.33 L273.76,68.34 L273.97,68.34 L274.17,68.34 L274.38,68.34 L274.58,68.34 L274.79,68.34 L274.99,68.34 L275.20,68.34 L275.40,68.34 L275.61,68.34 L275.81,68.34 L276.02,68.34 L276.22,68.34 L276.43,68.34 L276.63,68.34 L276.84,68.35 L277.04,68.35 L277.25,68.35 L277.45,68.35 L277.66,68.35 L277.86,68.35 L278.07,68.35 L278.27,68.35 L278.48,68.35 L278.68,68.35 L278.89,68.35 L279.09,68.35 L279.30,68.35 L279.50,68.35 L279.71,68.35 L279.92,68.35 L280.12,68.35 L280.33,68.35 L280.53,68.35 L280.74,68.35 L280.94,68.35 L281.15,68.35 L281.35,68.35 L281.56,68.35 L281.76,68.35 L281.97,68.35 L282.17,68.36 L282.38,68.36 L282.58,68.36 L282.79,68.36 L282.99,68.36 L283.20,68.36 L283.40,68.36 L283.61,68.36 L283.81,68.36 L284.02,68.36 L284.22,68.36 L284.43,68.36 L284.63,68.36 L284.84,68.36 L285.04,68.36 L285.25,68.36 L285.45,68.36 L285.66,68.36 L285.86,68.36 L286.07,68.36 L286.27,68.36 L286.48,68.36 L286.68,68.36 L286.89,68.36 L287.09,68.36 L287.30,68.36 L287.50,68.36 L287.71,68.36 L287.91,68.36 L288.12,68.36 L288.32,68.36 L288.53,68.36 L288.74,68.36 L288.94,68.36 L289.15,68.36 L289.35,68.36 L289.56,68.36 L289.76,68.36 L289.97,68.36 L290.17,68.36 L290.38,68.36 L290.58,68.36 L290.79,68.36 L290.99,68.36 L291.20,68.36 L291.40,68.36 L291.61,68.36 L291.81,68.36 L292.02,68.36 L292.22,68.36 L292.43,68.36 L292.63,68.36 L292.84,68.36 L293.04,68.36 L293.25,68.36 L293.45,68.36 L293.66,68.36 L293.86,68.36 L294.07,68.36 L294.27,68.36 L294.48,68.36 L294.68,68.36 L294.89,68.36 L295.09,68.36 L295.30,68.36 L295.50,68.36 L295.71,68.36 L295.91,68.36 L296.12,68.36 L296.32,68.36 L296.53,68.36 L296.73,68.36 L296.94,68.36 L297.15,68.36 L297.35,68.36 L297.56,68.36 L297.76,68.36 L297.97,68.36 L298.17,68.36 L298.38,68.36 L298.58,68.36 L298.79,68.36 L298.99,68.36 L299.20,68.36 L299.40,68.36 L299.61,68.36 L299.81,68.36 L300.02,68.37 L300.22,68.37 L300.43,68.37 L300.63,68.37 L300.84,68.37 L301.04,68.37 L301.25,68.37 L301.45,68.37 L301.66,68.37 L301.86,68.37 L302.07,68.37 L302.27,68.37 L302.48,68.37 L302.68,68.37 L302.89,68.37 L303.09,68.37 L303.30,68.37 L303.50,68.37 L303.71,68.37 L303.91,68.37 L304.12,68.37 L304.32,68.37 L304.53,68.37 L304.73,68.37 L304.94,68.37 L305.14,68.37 L305.35,68.37 L305.55,68.37 L305.76,68.37 L305.97,68.37 L306.17,68.37 L306.38,68.37 L306.58,68.37 L306.79,68.37 L306.99,68.37 L307.20,68.37 L307.40,68.37 L307.61,68.37 L307.81,68.37 L308.02,68.37 L308.22,68.37 L308.43,68.37 L308.63,68.37 L308.84,68.37 L309.04,68.37 L309.25,68.37 L309.45,68.37 L309.66,68.37 L309.86,68.37 L310.07,68.37 L310.27,68.37 L310.48,68.37 L310.68,68.37 L310.89,68.37 L311.09,68.37 L311.30,68.37 L311.50,68.37 L311.71,68.37 L311.91,68.37 L312.12,68.37 L312.32,68.37 L312.53,68.37 L312.73,68.37 L312.94,68.37 L313.14,68.37 L313.35,68.37 L313.55,68.37 L313.76,68.37 L313.96,68.37 L314.17,68.37 L314.37,68.37 L314.58,68.37 L314.79,68.37 L314.99,68.37 L315.20,68.37 L315.40,68.37 L315.61,68.37 L315.81,68.37 L316.02,68.37 L316.22,68.37 L316.43,68.37 L316.63,68.37 L316.84,68.37 L317.04,68.37 L317.17,68.37 L317.19,68.48 L317.22,68.57 L317.27,68.66 L317.33,68.73 L317.42,68.81 L317.50,68.88 L317.61,68.96 L317.75,69.05 L317.84,69.09 L317.95,69.15 L318.07,69.20 L318.21,69.26 L318.48,69.36 L318.68,69.42 L318.89,69.48 L319.09,69.54 L319.30,69.59 L319.50,69.64 L319.71,69.69 L319.91,69.73 L320.12,69.77 L320.32,69.81 L320.53,69.84 L320.73,69.88 L320.94,69.91 L321.14,69.94 L321.35,69.97 L321.55,70.00 L321.76,70.02 L321.96,70.05 L322.17,70.07 L322.37,70.10 L322.58,70.12 L322.78,70.14 L322.99,70.16 L323.19,70.18 L323.40,70.20 L323.61,70.22 L323.81,70.23 L324.02,70.25 L324.22,70.27 L324.43,70.28 L324.63,70.30 L324.84,70.31 L325.04,70.33 L325.25,70.34 L325.45,70.35 L325.66,70.37 L325.86,70.38 L326.07,70.39 L326.27,70.40 L326.48,70.41 L326.68,70.43 L326.74,70.49 L326.74,70.61 L326.75,70.73 L326.76,70.87 L326.78,70.97 L326.80,71.10 L326.82,71.21 L326.85,71.33 L326.89,71.44 L326.92,71.54 L326.98,71.71 L327.02,71.80 L327.06,71.91 L327.11,72.01 L327.17,72.13 L327.24,72.25 L327.30,72.34 L327.41,72.52 L327.50,72.65 L327.63,72.82 L327.71,72.91 L327.77,72.98 L327.91,73.13 L328.12,73.34 L328.32,73.52 L328.53,73.69 L328.73,73.85 L328.94,73.99 L329.14,74.13 L329.35,74.25 L329.55,74.37 L329.76,74.49 L329.96,74.59 L330.17,74.69 L330.37,74.79 L330.58,74.88 L330.78,74.96 L330.99,75.04 L331.19,75.12 L331.40,75.20 L331.60,75.27 L331.81,75.34 L332.01,75.40 L332.22,75.47 L332.43,75.53 L332.63,75.59 L332.84,75.64 L333.04,75.69 L333.25,75.75 L333.45,75.80 L333.66,75.84 L333.86,75.89 L334.07,75.93 L334.27,75.98 L334.48,76.02 L334.68,76.06 L334.89,76.10 L335.09,76.13 L335.30,76.17 L335.50,76.21 L335.71,76.24 L335.91,76.27 L336.12,76.30 L336.32,76.33 L336.53,76.36 L336.73,76.39 L336.94,76.42 L337.14,76.45 L337.35,76.47 L337.55,76.50 L337.76,76.52 L337.96,76.54 L338.17,76.57 L338.37,76.59 L338.58,76.61 L338.78,76.63 L338.99,76.65 L339.19,76.67 L339.40,76.69 L339.60,76.71 L339.81,76.73 L340.01,76.74 L340.22,76.76 L340.42,76.78 L340.63,76.79 L340.83,76.81 L341.04,76.82 L341.25,76.84 L341.45,76.85 L341.66,76.86 L341.86,76.88 L342.07,76.89 L342.27,76.90 L342.48,76.92 L342.68,76.93 L342.89,76.94 L343.09,76.95 L343.30,76.96 L343.50,76.97 L343.71,76.98 L343.91,76.99 L344.12,77.00 L344.32,77.01 L344.53,77.02 L344.73,77.03 L344.94,77.04 L345.14,77.05 L345.35,77.05 L345.55,77.06 L345.76,77.07 L345.96,77.08 L346.17,77.09 L346.37,77.09 L346.58,77.10 L346.78,77.11 L346.99,77.11 L347.19,77.12 L347.40,77.13 L347.60,77.13 L347.81,77.14 L348.01,77.14 L348.22,77.15 L348.42,77.15 L348.63,77.16 L348.83,77.16 L349.04,77.17 L349.24,77.17 L349.45,77.18 L349.65,77.18 L349.86,77.19 L350.07,77.19 L350.27,77.20 L350.48,77.20 L350.68,77.21 L350.89,77.21 L351.09,77.21 L351.30,77.22 L351.50,77.22 L351.71,77.22 L351.91,77.23 L352.12,77.23 L352.32,77.23 L352.53,77.24 L352.73,77.24 L352.94,77.24 L353.14,77.25 L353.35,77.25 L353.55,77.25 L353.76,77.26 L353.96,77.26 L354.17,77.26 L354.37,77.26 L354.58,77.27 L354.78,77.27 L354.99,77.27 L355.19,77.27 L355.40,77.27 L355.60,77.28 L355.81,77.28 L356.01,77.28 L356.22,77.28 L356.42,77.28 L356.63,77.29 L356.66,77.38 L356.70,77.47 L356.76,77.55 L356.83,77.61 L356.93,77.68 L357.02,77.74 L357.15,77.81 L357.24,77.86 L357.42,77.93 L357.54,77.98 L357.65,78.02 L357.86,78.08 L358.06,78.14 L358.27,78.20 L358.47,78.25 L358.68,78.29 L358.89,78.33 L359.09,78.37 L359.30,78.41 L359.50,78.45 L359.71,78.48 L359.91,78.51 L360.12,78.54 L360.32,78.57 L360.53,78.60 L360.73,78.62 L360.94,78.65 L361.14,78.67 L361.35,78.69 L361.55,78.71 L361.76,78.73 L361.96,78.75 L362.17,78.77 L362.37,78.79 L362.58,78.81 L362.78,78.82 L362.99,78.84 L363.19,78.86 L363.40,78.87 L363.60,78.89" stroke="#0000ff"/>
</g>
<g stroke="#b8b8b8" stroke-width="0.7" fill="none">
<path d="M52.90,237.0 v-2.0 M52.90,26.4 v2.0"/>
<path d="M56.40,237.0 v-3.9 M56.40,26.4 v3.9"/>
<path d="M79.44,237.0 v-2.0 M79.44,26.4 v2.0"/>
<path d="M92.92,237.0 v-2.0 M92.92,26.4 v2.0"/>
<path d="M102.49,237.0 v-2.0 M102.49,26.4 v2.0"/>
<path d="M109.91,237.0 v-2.0 M109.91,26.4 v2.0"/>
<path d="M115.97,237.0 v-2.0 M115.97,26.4 v2.0"/>
<path d="M121.09,237.0 v-2.0 M121.09,26.4 v2.0"/>
<path d="M125.53,237.0 v-2.0 M125.53,26.4 v2.0"/>
<path d="M129.45,237.0 v-2.0 M129.45,26.4 v2.0"/>
<path d="M132.95,237.0 v-3.9 M132.95,26.4 v3.9"/>
<path d="M155.99,237.0 v-2.0 M155.99,26.4 v2.0"/>
<path d="M169.47,237.0 v-2.0 M169.47,26.4 v2.0"/>
<path d="M179.04,237.0 v-2.0 M179.04,26.4 v2.0"/>
<path d="M186.46,237.0 v-2.0 M186.46,26.4 v2.0"/>
<path d="M192.52,237.0 v-2.0 M192.52,26.4 v2.0"/>
<path d="M197.64,237.0 v-2.0 M197.64,26.4 v2.0"/>
<path d="M202.08,237.0 v-2.0 M202.08,26.4 v2.0"/>
<path d="M206.00,237.0 v-2.0 M206.00,26.4 v2.0"/>
<path d="M209.50,237.0 v-3.9 M209.50,26.4 v3.9"/>
<path d="M232.54,237.0 v-2.0 M232.54,26.4 v2.0"/>
<path d="M246.02,237.0 v-2.0 M246.02,26.4 v2.0"/>
<path d="M255.59,237.0 v-2.0 M255.59,26.4 v2.0"/>
<path d="M263.01,237.0 v-2.0 M263.01,26.4 v2.0"/>
<path d="M269.07,237.0 v-2.0 M269.07,26.4 v2.0"/>
<path d="M274.19,237.0 v-2.0 M274.19,26.4 v2.0"/>
<path d="M278.63,237.0 v-2.0 M278.63,26.4 v2.0"/>
<path d="M282.55,237.0 v-2.0 M282.55,26.4 v2.0"/>
<path d="M286.05,237.0 v-3.9 M286.05,26.4 v3.9"/>
<path d="M309.09,237.0 v-2.0 M309.09,26.4 v2.0"/>
<path d="M322.57,237.0 v-2.0 M322.57,26.4 v2.0"/>
<path d="M332.14,237.0 v-2.0 M332.14,26.4 v2.0"/>
<path d="M339.56,237.0 v-2.0 M339.56,26.4 v2.0"/>
<path d="M345.62,237.0 v-2.0 M345.62,26.4 v2.0"/>
<path d="M350.74,237.0 v-2.0 M350.74,26.4 v2.0"/>
<path d="M355.18,237.0 v-2.0 M355.18,26.4 v2.0"/>
<path d="M359.10,237.0 v-2.0 M359.10,26.4 v2.0"/>
<path d="M362.60,237.0 v-3.9 M362.60,26.4 v3.9"/>
<path d="M49.75,212.63 h1.7 M368.9,212.63 h-1.7"/>
<path d="M49.75,194.46 h1.7 M368.9,194.46 h-1.7"/>
<path d="M49.75,181.57 h1.7 M368.9,181.57 h-1.7"/>
<path d="M49.75,172.27 h3.3 M368.9,172.27 h-3.3"/>
<path d="M49.75,163.39 h1.7 M368.9,163.39 h-1.7"/>
<path d="M49.75,156.49 h1.7 M368.9,156.49 h-1.7"/>
<path d="M49.75,150.50 h1.7 M368.9,150.50 h-1.7"/>
<path d="M49.75,145.22 h1.7 M368.9,145.22 h-1.7"/>
<path d="M49.75,140.50 h3.3 M368.9,140.50 h-3.3"/>
<path d="M49.75,109.43 h1.7 M368.9,109.43 h-1.7"/>
<path d="M49.75,91.26 h1.7 M368.9,91.26 h-1.7"/>
<path d="M49.75,78.37 h1.7 M368.9,78.37 h-1.7"/>
<path d="M49.75,68.37 h3.3 M368.9,68.37 h-3.3"/>
<path d="M49.75,60.19 h1.7 M368.9,60.19 h-1.7"/>
<path d="M49.75,53.29 h1.7 M368.9,53.29 h-1.7"/>
<path d="M49.75,47.30 h1.7 M368.9,47.30 h-1.7"/>
<path d="M49.75,42.02 h1.7 M368.9,42.02 h-1.7"/>
<path d="M49.75,37.30 h3.3 M368.9,37.30 h-3.3"/>
</g>
<rect x="49.75" y="26.4" width="319.15" height="210.6" fill="none" stroke="#8c8c8c" stroke-width="1"/>
<g fill="#666" font-size="10.5px" text-anchor="middle" letter-spacing="0.1">
<text x="56.5" y="252.2">0.001</text>
<text x="132.8" y="252.2">0.010</text>
<text x="209.4" y="252.2">0.100</text>
<text x="285.9" y="252.2">1</text>
<text x="362.9" y="252.2">10</text>
</g>
<g fill="#666" font-size="10.5px" text-anchor="end">
<text x="46.4" y="41.0">1</text>
<text x="47.3" y="72.1">0.50</text>
<text x="47.3" y="144.2">0.10</text>
<text x="47.3" y="176.0">0.05</text>
</g>
<g fill="#666" stroke="#666" stroke-width="0.25" font-size="15px">
<text transform="translate(184.4,16) scale(1,1.11)">U(1)</text>
<text x="213.9" y="17.5" font-size="10.6px">B−L</text>
<text x="179.9" y="277.4" font-size="14.6px">m</text>
<text x="192.0" y="280.4" font-size="9.6px" font-style="italic">Z′</text>
<text x="201.95" y="277.6" font-size="14.5px">[GeV]</text>
<text transform="translate(14.9,141.5) rotate(-90)" font-size="15.7px">BR</text>
</g>
<text transform="translate(179.2,51.1) scale(1,1.03) skewX(-10)" font-size="14.5px" letter-spacing="0.3" fill="#0000ff" stroke="#0000ff" stroke-width="0.3">νν</text>
<text transform="translate(183.2,98.6) scale(1,1.11)" font-size="15px" letter-spacing="-0.3" fill="#ff0000">ll</text>
<text transform="translate(253.8,107.7) scale(1,1.13)" font-size="14.75px" fill="#00ff00">uu+dd+ss</text>
</svg>
</body></html>
